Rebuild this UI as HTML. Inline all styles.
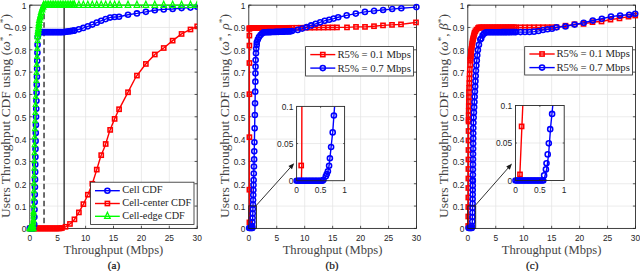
<!DOCTYPE html><html><head><meta charset="utf-8"><style>html,body{margin:0;padding:0;background:#fff;overflow:hidden}svg{display:block}.tk{font-family:"Liberation Sans",sans-serif;font-size:8.4px;fill:#262626}.lab{font-family:"Liberation Serif",serif;font-size:12.6px;fill:#444}.ylab{font-family:"Liberation Serif",serif;font-size:13px;fill:#262626}.leg{font-family:"Liberation Serif",serif;font-size:10.8px;fill:#252525}.cap{font-family:"Liberation Serif",serif;font-size:11.2px;fill:#111;stroke:#111;stroke-width:0.2}</style></head><body>
<svg width="640" height="271" viewBox="0 0 640 271"><rect width="640" height="271" fill="#fff"/>
<path d="M57.70,5.15 V228.40 M85.60,5.15 V228.40 M113.50,5.15 V228.40 M141.40,5.15 V228.40 M169.30,5.15 V228.40 M29.80,206.07 H197.20 M29.80,183.75 H197.20 M29.80,161.43 H197.20 M29.80,139.10 H197.20 M29.80,116.78 H197.20 M29.80,94.45 H197.20 M29.80,72.13 H197.20 M29.80,49.80 H197.20 M29.80,27.47 H197.20" stroke="#e2e2e2" stroke-width="0.7" fill="none"/>
<path d="M29.80,228.40 v-2.60 M29.80,5.15 v2.60 M57.70,228.40 v-2.60 M57.70,5.15 v2.60 M85.60,228.40 v-2.60 M85.60,5.15 v2.60 M113.50,228.40 v-2.60 M113.50,5.15 v2.60 M141.40,228.40 v-2.60 M141.40,5.15 v2.60 M169.30,228.40 v-2.60 M169.30,5.15 v2.60 M197.20,228.40 v-2.60 M197.20,5.15 v2.60 M29.80,228.40 h2.60 M197.20,228.40 h-2.60 M29.80,206.07 h2.60 M197.20,206.07 h-2.60 M29.80,183.75 h2.60 M197.20,183.75 h-2.60 M29.80,161.43 h2.60 M197.20,161.43 h-2.60 M29.80,139.10 h2.60 M197.20,139.10 h-2.60 M29.80,116.78 h2.60 M197.20,116.78 h-2.60 M29.80,94.45 h2.60 M197.20,94.45 h-2.60 M29.80,72.13 h2.60 M197.20,72.13 h-2.60 M29.80,49.80 h2.60 M197.20,49.80 h-2.60 M29.80,27.47 h2.60 M197.20,27.47 h-2.60 M29.80,5.15 h2.60 M197.20,5.15 h-2.60" stroke="#262626" stroke-width="0.75" fill="none"/>
<rect x="29.80" y="5.15" width="167.40" height="223.25" fill="none" stroke="#202020" stroke-width="0.85"/>
<svg x="21.80" y="-2.85" width="175.40" height="239.25" viewBox="21.80 -2.85 175.40 239.25" overflow="hidden">
<path d="M44.03,5.15 V228.40" stroke="#161616" stroke-width="1.25" stroke-dasharray="5.5,3"/>
<path d="M64.12,5.15 V228.40" stroke="#161616" stroke-width="1.25"/>
<path d="M29.80,228.40 L59.93,228.40 L64.40,227.51 L67.19,225.72 L69.98,223.94 L73.32,221.03 L78.35,213.44 L83.54,203.84 L87.94,194.47 L92.30,183.75 L96.20,171.47 L100.67,156.51 L105.13,145.80 L109.59,131.29 L114.06,120.12 L118.52,110.30 L126.89,94.45 L135.82,77.04 L145.31,64.53 L154.79,54.49 L163.72,48.01 L172.65,40.65 L181.58,33.95 L190.50,29.48 L197.20,26.36" stroke="#ff0000" stroke-width="1.4" fill="none"/>
<rect x="27.70" y="226.30" width="4.20" height="4.20" fill="none" stroke="#ff0000" stroke-width="1.55"/>
<rect x="29.09" y="226.30" width="4.20" height="4.20" fill="none" stroke="#ff0000" stroke-width="1.55"/>
<rect x="30.49" y="226.30" width="4.20" height="4.20" fill="none" stroke="#ff0000" stroke-width="1.55"/>
<rect x="31.88" y="226.30" width="4.20" height="4.20" fill="none" stroke="#ff0000" stroke-width="1.55"/>
<rect x="33.28" y="226.30" width="4.20" height="4.20" fill="none" stroke="#ff0000" stroke-width="1.55"/>
<rect x="34.67" y="226.30" width="4.20" height="4.20" fill="none" stroke="#ff0000" stroke-width="1.55"/>
<rect x="36.07" y="226.30" width="4.20" height="4.20" fill="none" stroke="#ff0000" stroke-width="1.55"/>
<rect x="37.46" y="226.30" width="4.20" height="4.20" fill="none" stroke="#ff0000" stroke-width="1.55"/>
<rect x="38.86" y="226.30" width="4.20" height="4.20" fill="none" stroke="#ff0000" stroke-width="1.55"/>
<rect x="40.25" y="226.30" width="4.20" height="4.20" fill="none" stroke="#ff0000" stroke-width="1.55"/>
<rect x="41.65" y="226.30" width="4.20" height="4.20" fill="none" stroke="#ff0000" stroke-width="1.55"/>
<rect x="43.04" y="226.30" width="4.20" height="4.20" fill="none" stroke="#ff0000" stroke-width="1.55"/>
<rect x="44.44" y="226.30" width="4.20" height="4.20" fill="none" stroke="#ff0000" stroke-width="1.55"/>
<rect x="45.84" y="226.30" width="4.20" height="4.20" fill="none" stroke="#ff0000" stroke-width="1.55"/>
<rect x="47.23" y="226.30" width="4.20" height="4.20" fill="none" stroke="#ff0000" stroke-width="1.55"/>
<rect x="48.62" y="226.30" width="4.20" height="4.20" fill="none" stroke="#ff0000" stroke-width="1.55"/>
<rect x="50.02" y="226.30" width="4.20" height="4.20" fill="none" stroke="#ff0000" stroke-width="1.55"/>
<rect x="51.41" y="226.30" width="4.20" height="4.20" fill="none" stroke="#ff0000" stroke-width="1.55"/>
<rect x="52.81" y="226.30" width="4.20" height="4.20" fill="none" stroke="#ff0000" stroke-width="1.55"/>
<rect x="54.20" y="226.30" width="4.20" height="4.20" fill="none" stroke="#ff0000" stroke-width="1.55"/>
<rect x="55.60" y="226.30" width="4.20" height="4.20" fill="none" stroke="#ff0000" stroke-width="1.55"/>
<rect x="56.99" y="226.30" width="4.20" height="4.20" fill="none" stroke="#ff0000" stroke-width="1.55"/>
<rect x="58.39" y="226.19" width="4.20" height="4.20" fill="none" stroke="#ff0000" stroke-width="1.55"/>
<rect x="59.78" y="225.91" width="4.20" height="4.20" fill="none" stroke="#ff0000" stroke-width="1.55"/>
<rect x="63.41" y="224.69" width="4.20" height="4.20" fill="none" stroke="#ff0000" stroke-width="1.55"/>
<rect x="67.88" y="221.84" width="4.20" height="4.20" fill="none" stroke="#ff0000" stroke-width="1.55"/>
<rect x="72.34" y="217.25" width="4.20" height="4.20" fill="none" stroke="#ff0000" stroke-width="1.55"/>
<rect x="76.80" y="210.31" width="4.20" height="4.20" fill="none" stroke="#ff0000" stroke-width="1.55"/>
<rect x="81.27" y="202.05" width="4.20" height="4.20" fill="none" stroke="#ff0000" stroke-width="1.55"/>
<rect x="85.73" y="192.60" width="4.20" height="4.20" fill="none" stroke="#ff0000" stroke-width="1.55"/>
<rect x="90.20" y="181.65" width="4.20" height="4.20" fill="none" stroke="#ff0000" stroke-width="1.55"/>
<rect x="94.66" y="167.50" width="4.20" height="4.20" fill="none" stroke="#ff0000" stroke-width="1.55"/>
<rect x="99.12" y="153.07" width="4.20" height="4.20" fill="none" stroke="#ff0000" stroke-width="1.55"/>
<rect x="103.59" y="141.88" width="4.20" height="4.20" fill="none" stroke="#ff0000" stroke-width="1.55"/>
<rect x="108.05" y="127.79" width="4.20" height="4.20" fill="none" stroke="#ff0000" stroke-width="1.55"/>
<rect x="112.52" y="116.80" width="4.20" height="4.20" fill="none" stroke="#ff0000" stroke-width="1.55"/>
<rect x="116.98" y="107.14" width="4.20" height="4.20" fill="none" stroke="#ff0000" stroke-width="1.55"/>
<rect x="125.91" y="90.17" width="4.20" height="4.20" fill="none" stroke="#ff0000" stroke-width="1.55"/>
<rect x="134.84" y="73.47" width="4.20" height="4.20" fill="none" stroke="#ff0000" stroke-width="1.55"/>
<rect x="143.76" y="61.84" width="4.20" height="4.20" fill="none" stroke="#ff0000" stroke-width="1.55"/>
<rect x="152.69" y="52.39" width="4.20" height="4.20" fill="none" stroke="#ff0000" stroke-width="1.55"/>
<rect x="161.62" y="45.91" width="4.20" height="4.20" fill="none" stroke="#ff0000" stroke-width="1.55"/>
<rect x="170.55" y="38.55" width="4.20" height="4.20" fill="none" stroke="#ff0000" stroke-width="1.55"/>
<rect x="179.48" y="31.85" width="4.20" height="4.20" fill="none" stroke="#ff0000" stroke-width="1.55"/>
<rect x="188.40" y="27.38" width="4.20" height="4.20" fill="none" stroke="#ff0000" stroke-width="1.55"/>
<rect x="195.10" y="24.26" width="4.20" height="4.20" fill="none" stroke="#ff0000" stroke-width="1.55"/>
<path d="M29.80,228.40 L34.15,228.40 L34.99,183.75 L35.83,127.94 L37.05,72.13 L37.72,36.41 L39.01,32.16 L63.28,32.16 L74.44,30.60 L80.02,29.04 L87.27,26.58 L92.85,24.35 L98.43,21.89 L103.46,19.88 L111.27,17.21 L119.08,16.76 L128.01,14.75 L136.94,13.41 L145.86,11.85 L154.79,10.28 L163.72,9.39 L172.65,8.95 L181.58,8.05 L190.50,7.61 L197.20,6.71" stroke="#0000ff" stroke-width="1.4" fill="none"/>
<circle cx="34.23" cy="224.49" r="2.55" fill="none" stroke="#0000ff" stroke-width="1.55"/>
<circle cx="34.37" cy="216.98" r="2.55" fill="none" stroke="#0000ff" stroke-width="1.55"/>
<circle cx="34.51" cy="209.48" r="2.55" fill="none" stroke="#0000ff" stroke-width="1.55"/>
<circle cx="34.65" cy="201.97" r="2.55" fill="none" stroke="#0000ff" stroke-width="1.55"/>
<circle cx="34.79" cy="194.46" r="2.55" fill="none" stroke="#0000ff" stroke-width="1.55"/>
<circle cx="34.93" cy="186.95" r="2.55" fill="none" stroke="#0000ff" stroke-width="1.55"/>
<circle cx="35.05" cy="179.44" r="2.55" fill="none" stroke="#0000ff" stroke-width="1.55"/>
<circle cx="35.17" cy="171.93" r="2.55" fill="none" stroke="#0000ff" stroke-width="1.55"/>
<circle cx="35.28" cy="164.43" r="2.55" fill="none" stroke="#0000ff" stroke-width="1.55"/>
<circle cx="35.39" cy="156.92" r="2.55" fill="none" stroke="#0000ff" stroke-width="1.55"/>
<circle cx="35.51" cy="148.91" r="2.55" fill="none" stroke="#0000ff" stroke-width="1.55"/>
<circle cx="35.63" cy="140.90" r="2.55" fill="none" stroke="#0000ff" stroke-width="1.55"/>
<circle cx="35.75" cy="132.89" r="2.55" fill="none" stroke="#0000ff" stroke-width="1.55"/>
<circle cx="35.89" cy="124.88" r="2.55" fill="none" stroke="#0000ff" stroke-width="1.55"/>
<circle cx="36.07" cy="116.87" r="2.55" fill="none" stroke="#0000ff" stroke-width="1.55"/>
<circle cx="36.25" cy="108.86" r="2.55" fill="none" stroke="#0000ff" stroke-width="1.55"/>
<circle cx="36.42" cy="100.85" r="2.55" fill="none" stroke="#0000ff" stroke-width="1.55"/>
<circle cx="36.60" cy="92.85" r="2.55" fill="none" stroke="#0000ff" stroke-width="1.55"/>
<circle cx="36.77" cy="84.84" r="2.55" fill="none" stroke="#0000ff" stroke-width="1.55"/>
<circle cx="36.95" cy="76.83" r="2.55" fill="none" stroke="#0000ff" stroke-width="1.55"/>
<circle cx="37.12" cy="68.82" r="2.55" fill="none" stroke="#0000ff" stroke-width="1.55"/>
<circle cx="37.27" cy="60.81" r="2.55" fill="none" stroke="#0000ff" stroke-width="1.55"/>
<circle cx="37.42" cy="52.80" r="2.55" fill="none" stroke="#0000ff" stroke-width="1.55"/>
<circle cx="37.57" cy="44.79" r="2.55" fill="none" stroke="#0000ff" stroke-width="1.55"/>
<circle cx="37.72" cy="36.78" r="2.55" fill="none" stroke="#0000ff" stroke-width="1.55"/>
<circle cx="29.80" cy="228.40" r="2.55" fill="none" stroke="#0000ff" stroke-width="1.55"/>
<circle cx="30.64" cy="228.40" r="2.55" fill="none" stroke="#0000ff" stroke-width="1.55"/>
<circle cx="31.47" cy="228.40" r="2.55" fill="none" stroke="#0000ff" stroke-width="1.55"/>
<circle cx="32.31" cy="228.40" r="2.55" fill="none" stroke="#0000ff" stroke-width="1.55"/>
<circle cx="33.15" cy="228.40" r="2.55" fill="none" stroke="#0000ff" stroke-width="1.55"/>
<circle cx="38.73" cy="33.09" r="2.55" fill="none" stroke="#0000ff" stroke-width="1.55"/>
<circle cx="40.40" cy="32.16" r="2.55" fill="none" stroke="#0000ff" stroke-width="1.55"/>
<circle cx="42.08" cy="32.16" r="2.55" fill="none" stroke="#0000ff" stroke-width="1.55"/>
<circle cx="43.75" cy="32.16" r="2.55" fill="none" stroke="#0000ff" stroke-width="1.55"/>
<circle cx="45.42" cy="32.16" r="2.55" fill="none" stroke="#0000ff" stroke-width="1.55"/>
<circle cx="47.10" cy="32.16" r="2.55" fill="none" stroke="#0000ff" stroke-width="1.55"/>
<circle cx="48.77" cy="32.16" r="2.55" fill="none" stroke="#0000ff" stroke-width="1.55"/>
<circle cx="50.45" cy="32.16" r="2.55" fill="none" stroke="#0000ff" stroke-width="1.55"/>
<circle cx="52.12" cy="32.16" r="2.55" fill="none" stroke="#0000ff" stroke-width="1.55"/>
<circle cx="53.79" cy="32.16" r="2.55" fill="none" stroke="#0000ff" stroke-width="1.55"/>
<circle cx="55.47" cy="32.16" r="2.55" fill="none" stroke="#0000ff" stroke-width="1.55"/>
<circle cx="57.14" cy="32.16" r="2.55" fill="none" stroke="#0000ff" stroke-width="1.55"/>
<circle cx="58.82" cy="32.16" r="2.55" fill="none" stroke="#0000ff" stroke-width="1.55"/>
<circle cx="60.49" cy="32.16" r="2.55" fill="none" stroke="#0000ff" stroke-width="1.55"/>
<circle cx="62.16" cy="32.16" r="2.55" fill="none" stroke="#0000ff" stroke-width="1.55"/>
<circle cx="63.84" cy="32.09" r="2.55" fill="none" stroke="#0000ff" stroke-width="1.55"/>
<circle cx="65.51" cy="31.85" r="2.55" fill="none" stroke="#0000ff" stroke-width="1.55"/>
<circle cx="67.19" cy="31.62" r="2.55" fill="none" stroke="#0000ff" stroke-width="1.55"/>
<circle cx="68.86" cy="31.38" r="2.55" fill="none" stroke="#0000ff" stroke-width="1.55"/>
<circle cx="70.53" cy="31.15" r="2.55" fill="none" stroke="#0000ff" stroke-width="1.55"/>
<circle cx="72.21" cy="30.91" r="2.55" fill="none" stroke="#0000ff" stroke-width="1.55"/>
<circle cx="73.88" cy="30.68" r="2.55" fill="none" stroke="#0000ff" stroke-width="1.55"/>
<circle cx="74.44" cy="30.60" r="2.55" fill="none" stroke="#0000ff" stroke-width="1.55"/>
<circle cx="78.90" cy="29.35" r="2.55" fill="none" stroke="#0000ff" stroke-width="1.55"/>
<circle cx="83.37" cy="27.90" r="2.55" fill="none" stroke="#0000ff" stroke-width="1.55"/>
<circle cx="87.83" cy="26.36" r="2.55" fill="none" stroke="#0000ff" stroke-width="1.55"/>
<circle cx="92.30" cy="24.57" r="2.55" fill="none" stroke="#0000ff" stroke-width="1.55"/>
<circle cx="96.76" cy="22.63" r="2.55" fill="none" stroke="#0000ff" stroke-width="1.55"/>
<circle cx="101.22" cy="20.78" r="2.55" fill="none" stroke="#0000ff" stroke-width="1.55"/>
<circle cx="105.69" cy="19.12" r="2.55" fill="none" stroke="#0000ff" stroke-width="1.55"/>
<circle cx="110.15" cy="17.59" r="2.55" fill="none" stroke="#0000ff" stroke-width="1.55"/>
<circle cx="114.62" cy="17.01" r="2.55" fill="none" stroke="#0000ff" stroke-width="1.55"/>
<circle cx="119.08" cy="16.76" r="2.55" fill="none" stroke="#0000ff" stroke-width="1.55"/>
<circle cx="128.01" cy="14.75" r="2.55" fill="none" stroke="#0000ff" stroke-width="1.55"/>
<circle cx="136.94" cy="13.41" r="2.55" fill="none" stroke="#0000ff" stroke-width="1.55"/>
<circle cx="145.86" cy="11.85" r="2.55" fill="none" stroke="#0000ff" stroke-width="1.55"/>
<circle cx="154.79" cy="10.28" r="2.55" fill="none" stroke="#0000ff" stroke-width="1.55"/>
<circle cx="163.72" cy="9.39" r="2.55" fill="none" stroke="#0000ff" stroke-width="1.55"/>
<circle cx="172.65" cy="8.95" r="2.55" fill="none" stroke="#0000ff" stroke-width="1.55"/>
<circle cx="181.58" cy="8.05" r="2.55" fill="none" stroke="#0000ff" stroke-width="1.55"/>
<circle cx="190.50" cy="7.61" r="2.55" fill="none" stroke="#0000ff" stroke-width="1.55"/>
<circle cx="197.20" cy="6.71" r="2.55" fill="none" stroke="#0000ff" stroke-width="1.55"/>
<path d="M29.80,228.40 L33.26,228.40 L33.98,183.75 L34.82,127.94 L36.50,72.13 L37.72,35.07 L39.40,20.11 L41.80,10.06 L43.75,5.15 L197.20,5.15" stroke="#00ff00" stroke-width="1.4" fill="none"/>
<path d="M29.80,224.44 L32.62,230.56 L26.98,230.56 Z" fill="none" stroke="#00ff00" stroke-width="1.25" stroke-linejoin="miter"/>
<path d="M30.64,224.44 L33.46,230.56 L27.82,230.56 Z" fill="none" stroke="#00ff00" stroke-width="1.25" stroke-linejoin="miter"/>
<path d="M31.47,224.44 L34.29,230.56 L28.65,230.56 Z" fill="none" stroke="#00ff00" stroke-width="1.25" stroke-linejoin="miter"/>
<path d="M32.31,224.44 L35.13,230.56 L29.49,230.56 Z" fill="none" stroke="#00ff00" stroke-width="1.25" stroke-linejoin="miter"/>
<path d="M33.15,224.44 L35.97,230.56 L30.33,230.56 Z" fill="none" stroke="#00ff00" stroke-width="1.25" stroke-linejoin="miter"/>
<path d="M33.30,222.42 L35.65,227.52 L30.95,227.52 Z" fill="none" stroke="#00ff00" stroke-width="1.10" stroke-linejoin="miter"/>
<path d="M33.35,219.52 L35.70,224.62 L31.00,224.62 Z" fill="none" stroke="#00ff00" stroke-width="1.10" stroke-linejoin="miter"/>
<path d="M33.40,216.17 L35.75,221.27 L31.05,221.27 Z" fill="none" stroke="#00ff00" stroke-width="1.10" stroke-linejoin="miter"/>
<path d="M33.46,212.82 L35.81,217.92 L31.11,217.92 Z" fill="none" stroke="#00ff00" stroke-width="1.10" stroke-linejoin="miter"/>
<path d="M33.53,208.36 L35.88,213.46 L31.18,213.46 Z" fill="none" stroke="#00ff00" stroke-width="1.10" stroke-linejoin="miter"/>
<path d="M33.26,225.10 L35.61,230.20 L30.91,230.20 Z" fill="none" stroke="#00ff00" stroke-width="1.10" stroke-linejoin="miter"/>
<path d="M33.38,217.59 L35.73,222.69 L31.03,222.69 Z" fill="none" stroke="#00ff00" stroke-width="1.10" stroke-linejoin="miter"/>
<path d="M33.50,210.08 L35.85,215.18 L31.15,215.18 Z" fill="none" stroke="#00ff00" stroke-width="1.10" stroke-linejoin="miter"/>
<path d="M33.63,202.57 L35.98,207.67 L31.28,207.67 Z" fill="none" stroke="#00ff00" stroke-width="1.10" stroke-linejoin="miter"/>
<path d="M33.75,195.07 L36.10,200.17 L31.40,200.17 Z" fill="none" stroke="#00ff00" stroke-width="1.10" stroke-linejoin="miter"/>
<path d="M33.87,187.56 L36.22,192.66 L31.52,192.66 Z" fill="none" stroke="#00ff00" stroke-width="1.10" stroke-linejoin="miter"/>
<path d="M33.99,180.05 L36.34,185.15 L31.64,185.15 Z" fill="none" stroke="#00ff00" stroke-width="1.10" stroke-linejoin="miter"/>
<path d="M34.10,172.54 L36.45,177.64 L31.75,177.64 Z" fill="none" stroke="#00ff00" stroke-width="1.10" stroke-linejoin="miter"/>
<path d="M34.22,165.03 L36.57,170.13 L31.87,170.13 Z" fill="none" stroke="#00ff00" stroke-width="1.10" stroke-linejoin="miter"/>
<path d="M34.33,157.52 L36.68,162.62 L31.98,162.62 Z" fill="none" stroke="#00ff00" stroke-width="1.10" stroke-linejoin="miter"/>
<path d="M34.45,149.52 L36.80,154.62 L32.10,154.62 Z" fill="none" stroke="#00ff00" stroke-width="1.10" stroke-linejoin="miter"/>
<path d="M34.57,141.51 L36.92,146.61 L32.22,146.61 Z" fill="none" stroke="#00ff00" stroke-width="1.10" stroke-linejoin="miter"/>
<path d="M34.69,133.50 L37.04,138.60 L32.34,138.60 Z" fill="none" stroke="#00ff00" stroke-width="1.10" stroke-linejoin="miter"/>
<path d="M34.81,125.49 L37.16,130.59 L32.46,130.59 Z" fill="none" stroke="#00ff00" stroke-width="1.10" stroke-linejoin="miter"/>
<path d="M35.04,117.48 L37.39,122.58 L32.69,122.58 Z" fill="none" stroke="#00ff00" stroke-width="1.10" stroke-linejoin="miter"/>
<path d="M35.28,109.47 L37.63,114.57 L32.93,114.57 Z" fill="none" stroke="#00ff00" stroke-width="1.10" stroke-linejoin="miter"/>
<path d="M35.52,101.46 L37.87,106.56 L33.17,106.56 Z" fill="none" stroke="#00ff00" stroke-width="1.10" stroke-linejoin="miter"/>
<path d="M35.76,93.45 L38.11,98.55 L33.41,98.55 Z" fill="none" stroke="#00ff00" stroke-width="1.10" stroke-linejoin="miter"/>
<path d="M36.00,85.44 L38.35,90.54 L33.65,90.54 Z" fill="none" stroke="#00ff00" stroke-width="1.10" stroke-linejoin="miter"/>
<path d="M36.24,77.43 L38.59,82.53 L33.89,82.53 Z" fill="none" stroke="#00ff00" stroke-width="1.10" stroke-linejoin="miter"/>
<path d="M36.48,69.43 L38.83,74.53 L34.13,74.53 Z" fill="none" stroke="#00ff00" stroke-width="1.10" stroke-linejoin="miter"/>
<path d="M36.74,61.42 L39.09,66.52 L34.39,66.52 Z" fill="none" stroke="#00ff00" stroke-width="1.10" stroke-linejoin="miter"/>
<path d="M37.01,53.41 L39.36,58.51 L34.66,58.51 Z" fill="none" stroke="#00ff00" stroke-width="1.10" stroke-linejoin="miter"/>
<path d="M37.27,45.40 L39.62,50.50 L34.92,50.50 Z" fill="none" stroke="#00ff00" stroke-width="1.10" stroke-linejoin="miter"/>
<path d="M37.54,37.39 L39.89,42.49 L35.19,42.49 Z" fill="none" stroke="#00ff00" stroke-width="1.10" stroke-linejoin="miter"/>
<path d="M37.99,29.38 L40.34,34.48 L35.64,34.48 Z" fill="none" stroke="#00ff00" stroke-width="1.10" stroke-linejoin="miter"/>
<path d="M38.89,21.37 L41.24,26.47 L36.54,26.47 Z" fill="none" stroke="#00ff00" stroke-width="1.10" stroke-linejoin="miter"/>
<path d="M40.22,13.36 L42.57,18.46 L37.87,18.46 Z" fill="none" stroke="#00ff00" stroke-width="1.10" stroke-linejoin="miter"/>
<path d="M42.36,5.35 L44.71,10.45 L40.01,10.45 Z" fill="none" stroke="#00ff00" stroke-width="1.10" stroke-linejoin="miter"/>
<path d="M37.68,32.45 L40.50,38.56 L34.86,38.56 Z" fill="none" stroke="#00ff00" stroke-width="1.25" stroke-linejoin="miter"/>
<path d="M37.87,29.77 L40.69,35.89 L35.05,35.89 Z" fill="none" stroke="#00ff00" stroke-width="1.25" stroke-linejoin="miter"/>
<path d="M38.17,27.09 L40.99,33.21 L35.35,33.21 Z" fill="none" stroke="#00ff00" stroke-width="1.25" stroke-linejoin="miter"/>
<path d="M38.47,24.41 L41.29,30.53 L35.65,30.53 Z" fill="none" stroke="#00ff00" stroke-width="1.25" stroke-linejoin="miter"/>
<path d="M38.77,21.73 L41.59,27.85 L35.95,27.85 Z" fill="none" stroke="#00ff00" stroke-width="1.25" stroke-linejoin="miter"/>
<path d="M39.07,19.05 L41.89,25.17 L36.25,25.17 Z" fill="none" stroke="#00ff00" stroke-width="1.25" stroke-linejoin="miter"/>
<path d="M39.37,16.37 L42.19,22.49 L36.55,22.49 Z" fill="none" stroke="#00ff00" stroke-width="1.25" stroke-linejoin="miter"/>
<path d="M39.98,13.69 L42.80,19.81 L37.16,19.81 Z" fill="none" stroke="#00ff00" stroke-width="1.25" stroke-linejoin="miter"/>
<path d="M40.62,11.01 L43.44,17.13 L37.80,17.13 Z" fill="none" stroke="#00ff00" stroke-width="1.25" stroke-linejoin="miter"/>
<path d="M41.26,8.33 L44.08,14.45 L38.44,14.45 Z" fill="none" stroke="#00ff00" stroke-width="1.25" stroke-linejoin="miter"/>
<path d="M41.97,5.65 L44.79,11.77 L39.15,11.77 Z" fill="none" stroke="#00ff00" stroke-width="1.25" stroke-linejoin="miter"/>
<path d="M43.04,2.98 L45.86,9.10 L40.22,9.10 Z" fill="none" stroke="#00ff00" stroke-width="1.25" stroke-linejoin="miter"/>
<path d="M43.75,1.19 L46.57,7.31 L40.93,7.31 Z" fill="none" stroke="#00ff00" stroke-width="1.25" stroke-linejoin="miter"/>
<path d="M45.42,1.19 L48.24,7.31 L42.60,7.31 Z" fill="none" stroke="#00ff00" stroke-width="1.25" stroke-linejoin="miter"/>
<path d="M47.10,1.19 L49.92,7.31 L44.28,7.31 Z" fill="none" stroke="#00ff00" stroke-width="1.25" stroke-linejoin="miter"/>
<path d="M48.77,1.19 L51.59,7.31 L45.95,7.31 Z" fill="none" stroke="#00ff00" stroke-width="1.25" stroke-linejoin="miter"/>
<path d="M50.45,1.19 L53.27,7.31 L47.63,7.31 Z" fill="none" stroke="#00ff00" stroke-width="1.25" stroke-linejoin="miter"/>
<path d="M52.12,1.19 L54.94,7.31 L49.30,7.31 Z" fill="none" stroke="#00ff00" stroke-width="1.25" stroke-linejoin="miter"/>
<path d="M53.79,1.19 L56.61,7.31 L50.97,7.31 Z" fill="none" stroke="#00ff00" stroke-width="1.25" stroke-linejoin="miter"/>
<path d="M55.47,1.19 L58.29,7.31 L52.65,7.31 Z" fill="none" stroke="#00ff00" stroke-width="1.25" stroke-linejoin="miter"/>
<path d="M57.14,1.19 L59.96,7.31 L54.32,7.31 Z" fill="none" stroke="#00ff00" stroke-width="1.25" stroke-linejoin="miter"/>
<path d="M58.82,1.19 L61.64,7.31 L56.00,7.31 Z" fill="none" stroke="#00ff00" stroke-width="1.25" stroke-linejoin="miter"/>
<path d="M60.49,1.19 L63.31,7.31 L57.67,7.31 Z" fill="none" stroke="#00ff00" stroke-width="1.25" stroke-linejoin="miter"/>
<path d="M62.16,1.19 L64.98,7.31 L59.34,7.31 Z" fill="none" stroke="#00ff00" stroke-width="1.25" stroke-linejoin="miter"/>
<path d="M63.84,1.19 L66.66,7.31 L61.02,7.31 Z" fill="none" stroke="#00ff00" stroke-width="1.25" stroke-linejoin="miter"/>
<path d="M65.51,1.19 L68.33,7.31 L62.69,7.31 Z" fill="none" stroke="#00ff00" stroke-width="1.25" stroke-linejoin="miter"/>
<path d="M67.19,1.19 L70.01,7.31 L64.37,7.31 Z" fill="none" stroke="#00ff00" stroke-width="1.25" stroke-linejoin="miter"/>
<path d="M68.86,1.19 L71.68,7.31 L66.04,7.31 Z" fill="none" stroke="#00ff00" stroke-width="1.25" stroke-linejoin="miter"/>
<path d="M70.53,1.19 L73.35,7.31 L67.71,7.31 Z" fill="none" stroke="#00ff00" stroke-width="1.25" stroke-linejoin="miter"/>
<path d="M72.21,1.19 L75.03,7.31 L69.39,7.31 Z" fill="none" stroke="#00ff00" stroke-width="1.25" stroke-linejoin="miter"/>
<path d="M73.88,1.19 L76.70,7.31 L71.06,7.31 Z" fill="none" stroke="#00ff00" stroke-width="1.25" stroke-linejoin="miter"/>
<path d="M74.44,1.19 L77.26,7.31 L71.62,7.31 Z" fill="none" stroke="#00ff00" stroke-width="1.25" stroke-linejoin="miter"/>
<path d="M78.90,1.19 L81.72,7.31 L76.08,7.31 Z" fill="none" stroke="#00ff00" stroke-width="1.25" stroke-linejoin="miter"/>
<path d="M83.37,1.19 L86.19,7.31 L80.55,7.31 Z" fill="none" stroke="#00ff00" stroke-width="1.25" stroke-linejoin="miter"/>
<path d="M87.83,1.19 L90.65,7.31 L85.01,7.31 Z" fill="none" stroke="#00ff00" stroke-width="1.25" stroke-linejoin="miter"/>
<path d="M92.30,1.19 L95.12,7.31 L89.48,7.31 Z" fill="none" stroke="#00ff00" stroke-width="1.25" stroke-linejoin="miter"/>
<path d="M96.76,1.19 L99.58,7.31 L93.94,7.31 Z" fill="none" stroke="#00ff00" stroke-width="1.25" stroke-linejoin="miter"/>
<path d="M101.22,1.19 L104.04,7.31 L98.40,7.31 Z" fill="none" stroke="#00ff00" stroke-width="1.25" stroke-linejoin="miter"/>
<path d="M105.69,1.19 L108.51,7.31 L102.87,7.31 Z" fill="none" stroke="#00ff00" stroke-width="1.25" stroke-linejoin="miter"/>
<path d="M110.15,1.19 L112.97,7.31 L107.33,7.31 Z" fill="none" stroke="#00ff00" stroke-width="1.25" stroke-linejoin="miter"/>
<path d="M114.62,1.19 L117.44,7.31 L111.80,7.31 Z" fill="none" stroke="#00ff00" stroke-width="1.25" stroke-linejoin="miter"/>
<path d="M119.08,1.19 L121.90,7.31 L116.26,7.31 Z" fill="none" stroke="#00ff00" stroke-width="1.25" stroke-linejoin="miter"/>
<path d="M128.01,1.19 L130.83,7.31 L125.19,7.31 Z" fill="none" stroke="#00ff00" stroke-width="1.25" stroke-linejoin="miter"/>
<path d="M136.94,1.19 L139.76,7.31 L134.12,7.31 Z" fill="none" stroke="#00ff00" stroke-width="1.25" stroke-linejoin="miter"/>
<path d="M145.86,1.19 L148.68,7.31 L143.04,7.31 Z" fill="none" stroke="#00ff00" stroke-width="1.25" stroke-linejoin="miter"/>
<path d="M154.79,1.19 L157.61,7.31 L151.97,7.31 Z" fill="none" stroke="#00ff00" stroke-width="1.25" stroke-linejoin="miter"/>
<path d="M163.72,1.19 L166.54,7.31 L160.90,7.31 Z" fill="none" stroke="#00ff00" stroke-width="1.25" stroke-linejoin="miter"/>
<path d="M172.65,1.19 L175.47,7.31 L169.83,7.31 Z" fill="none" stroke="#00ff00" stroke-width="1.25" stroke-linejoin="miter"/>
<path d="M181.58,1.19 L184.40,7.31 L178.76,7.31 Z" fill="none" stroke="#00ff00" stroke-width="1.25" stroke-linejoin="miter"/>
<path d="M190.50,1.19 L193.32,7.31 L187.68,7.31 Z" fill="none" stroke="#00ff00" stroke-width="1.25" stroke-linejoin="miter"/>
<path d="M197.20,1.19 L200.02,7.31 L194.38,7.31 Z" fill="none" stroke="#00ff00" stroke-width="1.25" stroke-linejoin="miter"/>
</svg>
<text x="29.80" y="241.2" text-anchor="middle" class="tk">0</text>
<text x="57.70" y="241.2" text-anchor="middle" class="tk">5</text>
<text x="85.60" y="241.2" text-anchor="middle" class="tk">10</text>
<text x="113.50" y="241.2" text-anchor="middle" class="tk">15</text>
<text x="141.40" y="241.2" text-anchor="middle" class="tk">20</text>
<text x="169.30" y="241.2" text-anchor="middle" class="tk">25</text>
<text x="197.20" y="241.2" text-anchor="middle" class="tk">30</text>
<text x="26.30" y="232.40" text-anchor="end" class="tk">0</text>
<text x="26.30" y="210.07" text-anchor="end" class="tk">0.1</text>
<text x="26.30" y="187.75" text-anchor="end" class="tk">0.2</text>
<text x="26.30" y="165.43" text-anchor="end" class="tk">0.3</text>
<text x="26.30" y="143.10" text-anchor="end" class="tk">0.4</text>
<text x="26.30" y="120.78" text-anchor="end" class="tk">0.5</text>
<text x="26.30" y="98.45" text-anchor="end" class="tk">0.6</text>
<text x="26.30" y="76.13" text-anchor="end" class="tk">0.7</text>
<text x="26.30" y="53.80" text-anchor="end" class="tk">0.8</text>
<text x="26.30" y="31.47" text-anchor="end" class="tk">0.9</text>
<text x="26.30" y="9.15" text-anchor="end" class="tk">1</text>
<text x="113.40" y="253.6" text-anchor="middle" class="lab">Throughput (Mbps)</text>
<text x="113.90" y="268.8" text-anchor="middle" class="cap">(a)</text>
<text transform="translate(10.00,116) rotate(-90)" text-anchor="middle" class="lab" textLength="204" lengthAdjust="spacingAndGlyphs">Users Throughput CDF using (<tspan font-style="italic">ω</tspan><tspan dy="-4.5" font-size="9">*</tspan><tspan dy="4.5">, </tspan><tspan font-style="italic">ρ</tspan><tspan dy="-4.5" font-size="9">*</tspan><tspan dy="4.5">)</tspan></text>
<rect x="90.60" y="182.20" width="103.40" height="42.20" fill="#fff" stroke="#262626" stroke-width="0.8"/>
<path d="M95,190.70 H119.8" stroke="#0000ff" stroke-width="1.4"/>
<circle cx="107.40" cy="190.70" r="2.55" fill="none" stroke="#0000ff" stroke-width="1.55"/>
<text x="122.3" y="193.40" class="leg" textLength="40.2" lengthAdjust="spacingAndGlyphs">Cell CDF</text>
<path d="M95,203.50 H119.8" stroke="#ff0000" stroke-width="1.4"/>
<rect x="105.30" y="201.40" width="4.20" height="4.20" fill="none" stroke="#ff0000" stroke-width="1.55"/>
<text x="122.3" y="206.20" class="leg" textLength="69.0" lengthAdjust="spacingAndGlyphs">Cell-center CDF</text>
<path d="M95,216.30 H119.8" stroke="#00ff00" stroke-width="1.4"/>
<path d="M107.40,212.34 L110.22,218.46 L104.58,218.46 Z" fill="none" stroke="#00ff00" stroke-width="1.25" stroke-linejoin="miter"/>
<text x="122.3" y="219.00" class="leg" textLength="62.5" lengthAdjust="spacingAndGlyphs">Cell-edge CDF</text>
<path d="M276.75,5.15 V228.40 M304.70,5.15 V228.40 M332.65,5.15 V228.40 M360.60,5.15 V228.40 M388.55,5.15 V228.40 M248.80,206.07 H416.50 M248.80,183.75 H416.50 M248.80,161.43 H416.50 M248.80,139.10 H416.50 M248.80,116.78 H416.50 M248.80,94.45 H416.50 M248.80,72.13 H416.50 M248.80,49.80 H416.50 M248.80,27.47 H416.50" stroke="#e2e2e2" stroke-width="0.7" fill="none"/>
<path d="M248.80,228.40 v-2.60 M248.80,5.15 v2.60 M276.75,228.40 v-2.60 M276.75,5.15 v2.60 M304.70,228.40 v-2.60 M304.70,5.15 v2.60 M332.65,228.40 v-2.60 M332.65,5.15 v2.60 M360.60,228.40 v-2.60 M360.60,5.15 v2.60 M388.55,228.40 v-2.60 M388.55,5.15 v2.60 M416.50,228.40 v-2.60 M416.50,5.15 v2.60 M248.80,228.40 h2.60 M416.50,228.40 h-2.60 M248.80,206.07 h2.60 M416.50,206.07 h-2.60 M248.80,183.75 h2.60 M416.50,183.75 h-2.60 M248.80,161.43 h2.60 M416.50,161.43 h-2.60 M248.80,139.10 h2.60 M416.50,139.10 h-2.60 M248.80,116.78 h2.60 M416.50,116.78 h-2.60 M248.80,94.45 h2.60 M416.50,94.45 h-2.60 M248.80,72.13 h2.60 M416.50,72.13 h-2.60 M248.80,49.80 h2.60 M416.50,49.80 h-2.60 M248.80,27.47 h2.60 M416.50,27.47 h-2.60 M248.80,5.15 h2.60 M416.50,5.15 h-2.60" stroke="#262626" stroke-width="0.75" fill="none"/>
<rect x="248.80" y="5.15" width="167.70" height="223.25" fill="none" stroke="#202020" stroke-width="0.85"/>
<svg x="240.80" y="-2.85" width="183.70" height="239.25" viewBox="240.80 -2.85 183.70 239.25" overflow="hidden">
<path d="M248.80,228.00 L249.30,228.00 L249.40,222.00 L249.40,28.10 L249.40,28.10 L263.00,28.10 L338.00,27.40 L346.70,27.40 L356.00,26.90 L364.90,26.90 L374.00,26.20 L382.70,25.40 L391.50,24.90 L400.60,24.40 L409.70,23.20 L416.00,22.40" stroke="#ff0000" stroke-width="1.4" fill="none"/>
<rect x="247.30" y="26.80" width="4.20" height="4.20" fill="none" stroke="#ff0000" stroke-width="1.55"/>
<rect x="247.30" y="33.50" width="4.20" height="4.20" fill="none" stroke="#ff0000" stroke-width="1.55"/>
<rect x="247.30" y="43.50" width="4.20" height="4.20" fill="none" stroke="#ff0000" stroke-width="1.55"/>
<rect x="247.30" y="60.90" width="4.20" height="4.20" fill="none" stroke="#ff0000" stroke-width="1.55"/>
<rect x="247.30" y="92.10" width="4.20" height="4.20" fill="none" stroke="#ff0000" stroke-width="1.55"/>
<rect x="247.30" y="135.10" width="4.20" height="4.20" fill="none" stroke="#ff0000" stroke-width="1.55"/>
<rect x="247.30" y="187.60" width="4.20" height="4.20" fill="none" stroke="#ff0000" stroke-width="1.55"/>
<rect x="247.30" y="220.30" width="4.20" height="4.20" fill="none" stroke="#ff0000" stroke-width="1.55"/>
<rect x="247.30" y="26.00" width="4.20" height="4.20" fill="none" stroke="#ff0000" stroke-width="1.55"/>
<rect x="248.90" y="26.00" width="4.20" height="4.20" fill="none" stroke="#ff0000" stroke-width="1.55"/>
<rect x="250.50" y="26.00" width="4.20" height="4.20" fill="none" stroke="#ff0000" stroke-width="1.55"/>
<rect x="252.10" y="26.00" width="4.20" height="4.20" fill="none" stroke="#ff0000" stroke-width="1.55"/>
<rect x="253.70" y="26.00" width="4.20" height="4.20" fill="none" stroke="#ff0000" stroke-width="1.55"/>
<rect x="255.30" y="26.00" width="4.20" height="4.20" fill="none" stroke="#ff0000" stroke-width="1.55"/>
<rect x="256.90" y="26.00" width="4.20" height="4.20" fill="none" stroke="#ff0000" stroke-width="1.55"/>
<rect x="258.50" y="26.00" width="4.20" height="4.20" fill="none" stroke="#ff0000" stroke-width="1.55"/>
<rect x="260.10" y="26.00" width="4.20" height="4.20" fill="none" stroke="#ff0000" stroke-width="1.55"/>
<rect x="261.70" y="25.99" width="4.20" height="4.20" fill="none" stroke="#ff0000" stroke-width="1.55"/>
<rect x="263.30" y="25.98" width="4.20" height="4.20" fill="none" stroke="#ff0000" stroke-width="1.55"/>
<rect x="264.90" y="25.96" width="4.20" height="4.20" fill="none" stroke="#ff0000" stroke-width="1.55"/>
<rect x="266.50" y="25.95" width="4.20" height="4.20" fill="none" stroke="#ff0000" stroke-width="1.55"/>
<rect x="268.10" y="25.93" width="4.20" height="4.20" fill="none" stroke="#ff0000" stroke-width="1.55"/>
<rect x="269.70" y="25.92" width="4.20" height="4.20" fill="none" stroke="#ff0000" stroke-width="1.55"/>
<rect x="271.30" y="25.90" width="4.20" height="4.20" fill="none" stroke="#ff0000" stroke-width="1.55"/>
<rect x="272.90" y="25.89" width="4.20" height="4.20" fill="none" stroke="#ff0000" stroke-width="1.55"/>
<rect x="274.50" y="25.87" width="4.20" height="4.20" fill="none" stroke="#ff0000" stroke-width="1.55"/>
<rect x="276.10" y="25.86" width="4.20" height="4.20" fill="none" stroke="#ff0000" stroke-width="1.55"/>
<rect x="277.70" y="25.84" width="4.20" height="4.20" fill="none" stroke="#ff0000" stroke-width="1.55"/>
<rect x="279.30" y="25.83" width="4.20" height="4.20" fill="none" stroke="#ff0000" stroke-width="1.55"/>
<rect x="280.90" y="25.81" width="4.20" height="4.20" fill="none" stroke="#ff0000" stroke-width="1.55"/>
<rect x="282.50" y="25.80" width="4.20" height="4.20" fill="none" stroke="#ff0000" stroke-width="1.55"/>
<rect x="284.10" y="25.78" width="4.20" height="4.20" fill="none" stroke="#ff0000" stroke-width="1.55"/>
<rect x="285.70" y="25.77" width="4.20" height="4.20" fill="none" stroke="#ff0000" stroke-width="1.55"/>
<rect x="287.30" y="25.75" width="4.20" height="4.20" fill="none" stroke="#ff0000" stroke-width="1.55"/>
<rect x="289.90" y="25.73" width="4.20" height="4.20" fill="none" stroke="#ff0000" stroke-width="1.55"/>
<rect x="294.40" y="25.69" width="4.20" height="4.20" fill="none" stroke="#ff0000" stroke-width="1.55"/>
<rect x="298.90" y="25.65" width="4.20" height="4.20" fill="none" stroke="#ff0000" stroke-width="1.55"/>
<rect x="303.40" y="25.60" width="4.20" height="4.20" fill="none" stroke="#ff0000" stroke-width="1.55"/>
<rect x="307.90" y="25.56" width="4.20" height="4.20" fill="none" stroke="#ff0000" stroke-width="1.55"/>
<rect x="312.40" y="25.52" width="4.20" height="4.20" fill="none" stroke="#ff0000" stroke-width="1.55"/>
<rect x="316.90" y="25.48" width="4.20" height="4.20" fill="none" stroke="#ff0000" stroke-width="1.55"/>
<rect x="321.40" y="25.44" width="4.20" height="4.20" fill="none" stroke="#ff0000" stroke-width="1.55"/>
<rect x="325.90" y="25.39" width="4.20" height="4.20" fill="none" stroke="#ff0000" stroke-width="1.55"/>
<rect x="330.40" y="25.35" width="4.20" height="4.20" fill="none" stroke="#ff0000" stroke-width="1.55"/>
<rect x="334.90" y="25.31" width="4.20" height="4.20" fill="none" stroke="#ff0000" stroke-width="1.55"/>
<rect x="344.90" y="25.28" width="4.20" height="4.20" fill="none" stroke="#ff0000" stroke-width="1.55"/>
<rect x="353.90" y="24.80" width="4.20" height="4.20" fill="none" stroke="#ff0000" stroke-width="1.55"/>
<rect x="362.90" y="24.79" width="4.20" height="4.20" fill="none" stroke="#ff0000" stroke-width="1.55"/>
<rect x="371.90" y="24.10" width="4.20" height="4.20" fill="none" stroke="#ff0000" stroke-width="1.55"/>
<rect x="380.90" y="23.28" width="4.20" height="4.20" fill="none" stroke="#ff0000" stroke-width="1.55"/>
<rect x="389.90" y="22.77" width="4.20" height="4.20" fill="none" stroke="#ff0000" stroke-width="1.55"/>
<rect x="398.90" y="22.25" width="4.20" height="4.20" fill="none" stroke="#ff0000" stroke-width="1.55"/>
<rect x="413.90" y="20.30" width="4.20" height="4.20" fill="none" stroke="#ff0000" stroke-width="1.55"/>
<path d="M248.60,228.00 L251.60,228.00 L252.20,226.50 L252.60,220.00 L253.00,205.70 L254.10,161.00 L255.20,94.00 L255.60,61.00 L256.20,48.00 L257.50,40.00 L259.50,35.00 L262.00,33.00 L265.00,32.30 L290.00,31.40 L297.70,29.90 L302.20,28.60 L306.60,27.20 L311.00,25.50 L315.50,23.80 L319.90,22.40 L324.30,20.90 L329.30,19.70 L333.70,18.60 L338.20,17.20 L346.70,15.40 L355.80,13.60 L364.90,11.90 L374.00,10.90 L382.70,10.00 L391.50,9.10 L400.60,8.30 L409.70,7.60 L416.70,7.10" stroke="#0000ff" stroke-width="1.4" fill="none"/>
<circle cx="249.20" cy="228.00" r="2.55" fill="none" stroke="#0000ff" stroke-width="1.55"/>
<circle cx="250.00" cy="228.00" r="2.55" fill="none" stroke="#0000ff" stroke-width="1.55"/>
<circle cx="250.80" cy="228.00" r="2.55" fill="none" stroke="#0000ff" stroke-width="1.55"/>
<circle cx="251.60" cy="228.00" r="2.55" fill="none" stroke="#0000ff" stroke-width="1.55"/>
<circle cx="252.40" cy="228.00" r="2.55" fill="none" stroke="#0000ff" stroke-width="1.55"/>
<circle cx="252.23" cy="226.00" r="2.55" fill="none" stroke="#0000ff" stroke-width="1.55"/>
<circle cx="252.48" cy="222.00" r="2.55" fill="none" stroke="#0000ff" stroke-width="1.55"/>
<circle cx="252.66" cy="218.00" r="2.55" fill="none" stroke="#0000ff" stroke-width="1.55"/>
<circle cx="252.78" cy="213.50" r="2.55" fill="none" stroke="#0000ff" stroke-width="1.55"/>
<circle cx="252.91" cy="209.00" r="2.55" fill="none" stroke="#0000ff" stroke-width="1.55"/>
<circle cx="253.03" cy="204.50" r="2.55" fill="none" stroke="#0000ff" stroke-width="1.55"/>
<circle cx="253.14" cy="200.00" r="2.55" fill="none" stroke="#0000ff" stroke-width="1.55"/>
<circle cx="253.26" cy="195.00" r="2.55" fill="none" stroke="#0000ff" stroke-width="1.55"/>
<circle cx="253.39" cy="190.00" r="2.55" fill="none" stroke="#0000ff" stroke-width="1.55"/>
<circle cx="253.51" cy="185.00" r="2.55" fill="none" stroke="#0000ff" stroke-width="1.55"/>
<circle cx="253.63" cy="180.00" r="2.55" fill="none" stroke="#0000ff" stroke-width="1.55"/>
<circle cx="253.79" cy="173.50" r="2.55" fill="none" stroke="#0000ff" stroke-width="1.55"/>
<circle cx="253.96" cy="166.50" r="2.55" fill="none" stroke="#0000ff" stroke-width="1.55"/>
<circle cx="254.13" cy="159.40" r="2.55" fill="none" stroke="#0000ff" stroke-width="1.55"/>
<circle cx="254.26" cy="151.30" r="2.55" fill="none" stroke="#0000ff" stroke-width="1.55"/>
<circle cx="254.41" cy="142.20" r="2.55" fill="none" stroke="#0000ff" stroke-width="1.55"/>
<circle cx="254.64" cy="128.30" r="2.55" fill="none" stroke="#0000ff" stroke-width="1.55"/>
<circle cx="254.86" cy="115.00" r="2.55" fill="none" stroke="#0000ff" stroke-width="1.55"/>
<circle cx="255.05" cy="103.30" r="2.55" fill="none" stroke="#0000ff" stroke-width="1.55"/>
<circle cx="255.23" cy="91.70" r="2.55" fill="none" stroke="#0000ff" stroke-width="1.55"/>
<circle cx="255.35" cy="81.70" r="2.55" fill="none" stroke="#0000ff" stroke-width="1.55"/>
<circle cx="255.45" cy="73.30" r="2.55" fill="none" stroke="#0000ff" stroke-width="1.55"/>
<circle cx="255.53" cy="66.70" r="2.55" fill="none" stroke="#0000ff" stroke-width="1.55"/>
<circle cx="255.65" cy="60.00" r="2.55" fill="none" stroke="#0000ff" stroke-width="1.55"/>
<circle cx="255.96" cy="53.30" r="2.55" fill="none" stroke="#0000ff" stroke-width="1.55"/>
<circle cx="256.18" cy="48.50" r="2.55" fill="none" stroke="#0000ff" stroke-width="1.55"/>
<circle cx="256.69" cy="45.00" r="2.55" fill="none" stroke="#0000ff" stroke-width="1.55"/>
<circle cx="256.80" cy="42.20" r="2.55" fill="none" stroke="#0000ff" stroke-width="1.55"/>
<circle cx="257.80" cy="39.50" r="2.55" fill="none" stroke="#0000ff" stroke-width="1.55"/>
<circle cx="259.00" cy="37.00" r="2.55" fill="none" stroke="#0000ff" stroke-width="1.55"/>
<circle cx="260.50" cy="35.00" r="2.55" fill="none" stroke="#0000ff" stroke-width="1.55"/>
<circle cx="262.00" cy="33.60" r="2.55" fill="none" stroke="#0000ff" stroke-width="1.55"/>
<circle cx="263.50" cy="32.30" r="2.55" fill="none" stroke="#0000ff" stroke-width="1.55"/>
<circle cx="265.00" cy="32.30" r="2.55" fill="none" stroke="#0000ff" stroke-width="1.55"/>
<circle cx="266.50" cy="32.25" r="2.55" fill="none" stroke="#0000ff" stroke-width="1.55"/>
<circle cx="268.00" cy="32.19" r="2.55" fill="none" stroke="#0000ff" stroke-width="1.55"/>
<circle cx="269.50" cy="32.14" r="2.55" fill="none" stroke="#0000ff" stroke-width="1.55"/>
<circle cx="271.00" cy="32.08" r="2.55" fill="none" stroke="#0000ff" stroke-width="1.55"/>
<circle cx="272.50" cy="32.03" r="2.55" fill="none" stroke="#0000ff" stroke-width="1.55"/>
<circle cx="274.00" cy="31.98" r="2.55" fill="none" stroke="#0000ff" stroke-width="1.55"/>
<circle cx="275.50" cy="31.92" r="2.55" fill="none" stroke="#0000ff" stroke-width="1.55"/>
<circle cx="277.00" cy="31.87" r="2.55" fill="none" stroke="#0000ff" stroke-width="1.55"/>
<circle cx="278.50" cy="31.81" r="2.55" fill="none" stroke="#0000ff" stroke-width="1.55"/>
<circle cx="280.00" cy="31.76" r="2.55" fill="none" stroke="#0000ff" stroke-width="1.55"/>
<circle cx="281.50" cy="31.71" r="2.55" fill="none" stroke="#0000ff" stroke-width="1.55"/>
<circle cx="283.00" cy="31.65" r="2.55" fill="none" stroke="#0000ff" stroke-width="1.55"/>
<circle cx="284.50" cy="31.60" r="2.55" fill="none" stroke="#0000ff" stroke-width="1.55"/>
<circle cx="286.00" cy="31.54" r="2.55" fill="none" stroke="#0000ff" stroke-width="1.55"/>
<circle cx="287.50" cy="31.49" r="2.55" fill="none" stroke="#0000ff" stroke-width="1.55"/>
<circle cx="289.00" cy="31.44" r="2.55" fill="none" stroke="#0000ff" stroke-width="1.55"/>
<circle cx="290.50" cy="31.30" r="2.55" fill="none" stroke="#0000ff" stroke-width="1.55"/>
<circle cx="292.00" cy="31.01" r="2.55" fill="none" stroke="#0000ff" stroke-width="1.55"/>
<circle cx="297.70" cy="29.90" r="2.55" fill="none" stroke="#0000ff" stroke-width="1.55"/>
<circle cx="302.20" cy="28.60" r="2.55" fill="none" stroke="#0000ff" stroke-width="1.55"/>
<circle cx="306.70" cy="27.16" r="2.55" fill="none" stroke="#0000ff" stroke-width="1.55"/>
<circle cx="311.20" cy="25.42" r="2.55" fill="none" stroke="#0000ff" stroke-width="1.55"/>
<circle cx="315.70" cy="23.74" r="2.55" fill="none" stroke="#0000ff" stroke-width="1.55"/>
<circle cx="320.20" cy="22.30" r="2.55" fill="none" stroke="#0000ff" stroke-width="1.55"/>
<circle cx="324.70" cy="20.80" r="2.55" fill="none" stroke="#0000ff" stroke-width="1.55"/>
<circle cx="329.20" cy="19.72" r="2.55" fill="none" stroke="#0000ff" stroke-width="1.55"/>
<circle cx="333.70" cy="18.60" r="2.55" fill="none" stroke="#0000ff" stroke-width="1.55"/>
<circle cx="338.20" cy="17.20" r="2.55" fill="none" stroke="#0000ff" stroke-width="1.55"/>
<circle cx="346.70" cy="15.40" r="2.55" fill="none" stroke="#0000ff" stroke-width="1.55"/>
<circle cx="355.80" cy="13.60" r="2.55" fill="none" stroke="#0000ff" stroke-width="1.55"/>
<circle cx="364.90" cy="11.90" r="2.55" fill="none" stroke="#0000ff" stroke-width="1.55"/>
<circle cx="374.00" cy="10.90" r="2.55" fill="none" stroke="#0000ff" stroke-width="1.55"/>
<circle cx="383.10" cy="9.96" r="2.55" fill="none" stroke="#0000ff" stroke-width="1.55"/>
<circle cx="392.20" cy="9.04" r="2.55" fill="none" stroke="#0000ff" stroke-width="1.55"/>
<circle cx="401.30" cy="8.25" r="2.55" fill="none" stroke="#0000ff" stroke-width="1.55"/>
<circle cx="416.40" cy="7.12" r="2.55" fill="none" stroke="#0000ff" stroke-width="1.55"/>
</svg>
<text x="248.80" y="241.2" text-anchor="middle" class="tk">0</text>
<text x="276.75" y="241.2" text-anchor="middle" class="tk">5</text>
<text x="304.70" y="241.2" text-anchor="middle" class="tk">10</text>
<text x="332.65" y="241.2" text-anchor="middle" class="tk">15</text>
<text x="360.60" y="241.2" text-anchor="middle" class="tk">20</text>
<text x="388.55" y="241.2" text-anchor="middle" class="tk">25</text>
<text x="416.50" y="241.2" text-anchor="middle" class="tk">30</text>
<text x="245.30" y="232.40" text-anchor="end" class="tk">0</text>
<text x="245.30" y="210.07" text-anchor="end" class="tk">0.1</text>
<text x="245.30" y="187.75" text-anchor="end" class="tk">0.2</text>
<text x="245.30" y="165.43" text-anchor="end" class="tk">0.3</text>
<text x="245.30" y="143.10" text-anchor="end" class="tk">0.4</text>
<text x="245.30" y="120.78" text-anchor="end" class="tk">0.5</text>
<text x="245.30" y="98.45" text-anchor="end" class="tk">0.6</text>
<text x="245.30" y="76.13" text-anchor="end" class="tk">0.7</text>
<text x="245.30" y="53.80" text-anchor="end" class="tk">0.8</text>
<text x="245.30" y="31.47" text-anchor="end" class="tk">0.9</text>
<text x="245.30" y="9.15" text-anchor="end" class="tk">1</text>
<text x="332.50" y="253.6" text-anchor="middle" class="lab">Throughput (Mbps)</text>
<text x="332.00" y="268.8" text-anchor="middle" class="cap">(b)</text>
<text transform="translate(229.00,116) rotate(-90)" text-anchor="middle" class="lab" textLength="204" lengthAdjust="spacingAndGlyphs">Users Throughput CDF using (<tspan font-style="italic">ω</tspan><tspan dy="-4.5" font-size="9">*</tspan><tspan dy="4.5">, </tspan><tspan font-style="italic">ρ</tspan><tspan dy="-4.5" font-size="9">*</tspan><tspan dy="4.5">)</tspan></text>
<rect x="248.80" y="205.90" width="7.60" height="22.50" fill="none" stroke="#1a1a1a" stroke-width="0.9"/>
<path d="M255.60,206.20 L290.86,166.92" stroke="#1a1a1a" stroke-width="0.9"/>
<path d="M294.20,163.20 L291.98,169.27 L288.41,166.06 Z" fill="#1a1a1a"/>
<rect x="296.60" y="106.40" width="48.00" height="74.30" fill="#fff" stroke="none"/>
<path d="M320.60,106.40 V180.70 M296.60,143.55 H344.60" stroke="#e2e2e2" stroke-width="0.7"/>
<svg x="291.60" y="106.40" width="53.00" height="79.30" viewBox="291.60 106.40 53.00 79.30" overflow="hidden">
<path d="M296.60,180.70 L301.40,180.70 L301.74,165.84 L301.88,98.97" stroke="#ff0000" stroke-width="1.4" fill="none"/>
<rect x="299.10" y="163.40" width="4.20" height="4.20" fill="none" stroke="#ff0000" stroke-width="1.55"/>
<path d="M296.60,180.70 L323.00,180.70 L323.50,179.80 L325.80,176.20 L327.90,171.30 L329.10,165.70 L329.90,158.20 L331.10,147.00 L332.70,132.40 L333.90,115.50 L334.60,106.50" stroke="#0000ff" stroke-width="1.4" fill="none"/>
<circle cx="296.60" cy="180.70" r="2.55" fill="none" stroke="#0000ff" stroke-width="1.55"/>
<circle cx="298.04" cy="180.70" r="2.55" fill="none" stroke="#0000ff" stroke-width="1.55"/>
<circle cx="299.48" cy="180.70" r="2.55" fill="none" stroke="#0000ff" stroke-width="1.55"/>
<circle cx="300.92" cy="180.70" r="2.55" fill="none" stroke="#0000ff" stroke-width="1.55"/>
<circle cx="302.36" cy="180.70" r="2.55" fill="none" stroke="#0000ff" stroke-width="1.55"/>
<circle cx="303.80" cy="180.70" r="2.55" fill="none" stroke="#0000ff" stroke-width="1.55"/>
<circle cx="305.24" cy="180.70" r="2.55" fill="none" stroke="#0000ff" stroke-width="1.55"/>
<circle cx="306.68" cy="180.70" r="2.55" fill="none" stroke="#0000ff" stroke-width="1.55"/>
<circle cx="308.12" cy="180.70" r="2.55" fill="none" stroke="#0000ff" stroke-width="1.55"/>
<circle cx="309.56" cy="180.70" r="2.55" fill="none" stroke="#0000ff" stroke-width="1.55"/>
<circle cx="311.00" cy="180.70" r="2.55" fill="none" stroke="#0000ff" stroke-width="1.55"/>
<circle cx="312.44" cy="180.70" r="2.55" fill="none" stroke="#0000ff" stroke-width="1.55"/>
<circle cx="313.88" cy="180.70" r="2.55" fill="none" stroke="#0000ff" stroke-width="1.55"/>
<circle cx="315.32" cy="180.70" r="2.55" fill="none" stroke="#0000ff" stroke-width="1.55"/>
<circle cx="316.76" cy="180.70" r="2.55" fill="none" stroke="#0000ff" stroke-width="1.55"/>
<circle cx="318.20" cy="180.70" r="2.55" fill="none" stroke="#0000ff" stroke-width="1.55"/>
<circle cx="319.64" cy="180.70" r="2.55" fill="none" stroke="#0000ff" stroke-width="1.55"/>
<circle cx="321.08" cy="180.70" r="2.55" fill="none" stroke="#0000ff" stroke-width="1.55"/>
<circle cx="322.52" cy="180.70" r="2.55" fill="none" stroke="#0000ff" stroke-width="1.55"/>
<circle cx="323.50" cy="179.80" r="2.55" fill="none" stroke="#0000ff" stroke-width="1.55"/>
<circle cx="325.80" cy="176.20" r="2.55" fill="none" stroke="#0000ff" stroke-width="1.55"/>
<circle cx="326.80" cy="174.00" r="2.55" fill="none" stroke="#0000ff" stroke-width="1.55"/>
<circle cx="327.90" cy="171.30" r="2.55" fill="none" stroke="#0000ff" stroke-width="1.55"/>
<circle cx="329.10" cy="165.70" r="2.55" fill="none" stroke="#0000ff" stroke-width="1.55"/>
<circle cx="329.90" cy="158.20" r="2.55" fill="none" stroke="#0000ff" stroke-width="1.55"/>
<circle cx="331.10" cy="147.00" r="2.55" fill="none" stroke="#0000ff" stroke-width="1.55"/>
<circle cx="332.70" cy="132.40" r="2.55" fill="none" stroke="#0000ff" stroke-width="1.55"/>
<circle cx="333.90" cy="115.50" r="2.55" fill="none" stroke="#0000ff" stroke-width="1.55"/>
</svg>
<path d="M320.60,180.70 v-1.50 M296.60,143.55 h1.50 M344.60,143.55 h-1.50 M320.60,106.40 v1.50" stroke="#262626" stroke-width="0.7"/>
<rect x="296.60" y="106.40" width="48.00" height="74.30" fill="none" stroke="#262626" stroke-width="0.9"/>
<text x="296.60" y="192.70" text-anchor="middle" class="tk">0</text><text x="320.60" y="192.70" text-anchor="middle" class="tk">0.5</text><text x="344.60" y="192.70" text-anchor="middle" class="tk">1</text>
<text x="293.30" y="183.80" text-anchor="end" class="tk">0</text><text x="293.30" y="146.65" text-anchor="end" class="tk">0.05</text><text x="293.30" y="109.50" text-anchor="end" class="tk">0.1</text>
<rect x="305.60" y="46.60" width="107.80" height="29.40" fill="#fff" stroke="#262626" stroke-width="0.8"/>
<path d="M310.30,54.60 H335.30" stroke="#ff0000" stroke-width="1.4"/>
<rect x="320.70" y="52.50" width="4.20" height="4.20" fill="none" stroke="#ff0000" stroke-width="1.55"/>
<text x="337.40" y="58.00" class="leg" textLength="73.5" lengthAdjust="spacingAndGlyphs">R5% = 0.1 Mbps</text>
<path d="M310.30,68.10 H335.30" stroke="#0000ff" stroke-width="1.4"/>
<circle cx="322.80" cy="68.10" r="2.55" fill="none" stroke="#0000ff" stroke-width="1.55"/>
<text x="337.40" y="71.50" class="leg" textLength="73.5" lengthAdjust="spacingAndGlyphs">R5% = 0.7 Mbps</text>
<path d="M495.75,5.15 V228.40 M523.70,5.15 V228.40 M551.65,5.15 V228.40 M579.60,5.15 V228.40 M607.55,5.15 V228.40 M467.80,206.07 H635.50 M467.80,183.75 H635.50 M467.80,161.43 H635.50 M467.80,139.10 H635.50 M467.80,116.78 H635.50 M467.80,94.45 H635.50 M467.80,72.13 H635.50 M467.80,49.80 H635.50 M467.80,27.47 H635.50" stroke="#e2e2e2" stroke-width="0.7" fill="none"/>
<path d="M467.80,228.40 v-2.60 M467.80,5.15 v2.60 M495.75,228.40 v-2.60 M495.75,5.15 v2.60 M523.70,228.40 v-2.60 M523.70,5.15 v2.60 M551.65,228.40 v-2.60 M551.65,5.15 v2.60 M579.60,228.40 v-2.60 M579.60,5.15 v2.60 M607.55,228.40 v-2.60 M607.55,5.15 v2.60 M635.50,228.40 v-2.60 M635.50,5.15 v2.60 M467.80,228.40 h2.60 M635.50,228.40 h-2.60 M467.80,206.07 h2.60 M635.50,206.07 h-2.60 M467.80,183.75 h2.60 M635.50,183.75 h-2.60 M467.80,161.43 h2.60 M635.50,161.43 h-2.60 M467.80,139.10 h2.60 M635.50,139.10 h-2.60 M467.80,116.78 h2.60 M635.50,116.78 h-2.60 M467.80,94.45 h2.60 M635.50,94.45 h-2.60 M467.80,72.13 h2.60 M635.50,72.13 h-2.60 M467.80,49.80 h2.60 M635.50,49.80 h-2.60 M467.80,27.47 h2.60 M635.50,27.47 h-2.60 M467.80,5.15 h2.60 M635.50,5.15 h-2.60" stroke="#262626" stroke-width="0.75" fill="none"/>
<rect x="467.80" y="5.15" width="167.70" height="223.25" fill="none" stroke="#202020" stroke-width="0.85"/>
<svg x="459.80" y="-2.85" width="183.70" height="239.25" viewBox="459.80 -2.85 183.70 239.25" overflow="hidden">
<path d="M468.00,228.00 L468.20,226.00 L468.30,200.00 L468.40,160.00 L468.60,120.00 L469.00,90.00 L469.80,70.00 L471.00,52.00 L472.80,40.00 L474.80,32.00 L477.50,28.20 L481.00,27.40 L557.00,27.20 L565.50,25.70 L575.00,24.20 L583.90,23.90 L593.20,22.00 L601.50,21.50 L611.00,19.50 L619.40,18.40 L628.70,16.60 L635.30,15.50" stroke="#ff0000" stroke-width="1.4" fill="none"/>
<rect x="466.10" y="223.90" width="4.20" height="4.20" fill="none" stroke="#ff0000" stroke-width="1.55"/>
<rect x="466.14" y="214.40" width="4.20" height="4.20" fill="none" stroke="#ff0000" stroke-width="1.55"/>
<rect x="466.17" y="204.90" width="4.20" height="4.20" fill="none" stroke="#ff0000" stroke-width="1.55"/>
<rect x="466.21" y="195.40" width="4.20" height="4.20" fill="none" stroke="#ff0000" stroke-width="1.55"/>
<rect x="466.23" y="185.90" width="4.20" height="4.20" fill="none" stroke="#ff0000" stroke-width="1.55"/>
<rect x="466.25" y="176.40" width="4.20" height="4.20" fill="none" stroke="#ff0000" stroke-width="1.55"/>
<rect x="466.28" y="166.90" width="4.20" height="4.20" fill="none" stroke="#ff0000" stroke-width="1.55"/>
<rect x="466.30" y="157.40" width="4.20" height="4.20" fill="none" stroke="#ff0000" stroke-width="1.55"/>
<rect x="466.35" y="147.90" width="4.20" height="4.20" fill="none" stroke="#ff0000" stroke-width="1.55"/>
<rect x="466.40" y="138.40" width="4.20" height="4.20" fill="none" stroke="#ff0000" stroke-width="1.55"/>
<rect x="466.44" y="128.90" width="4.20" height="4.20" fill="none" stroke="#ff0000" stroke-width="1.55"/>
<rect x="466.49" y="119.40" width="4.20" height="4.20" fill="none" stroke="#ff0000" stroke-width="1.55"/>
<rect x="466.50" y="117.90" width="4.20" height="4.20" fill="none" stroke="#ff0000" stroke-width="1.55"/>
<rect x="466.56" y="113.30" width="4.20" height="4.20" fill="none" stroke="#ff0000" stroke-width="1.55"/>
<rect x="466.62" y="108.70" width="4.20" height="4.20" fill="none" stroke="#ff0000" stroke-width="1.55"/>
<rect x="466.68" y="104.10" width="4.20" height="4.20" fill="none" stroke="#ff0000" stroke-width="1.55"/>
<rect x="466.75" y="99.50" width="4.20" height="4.20" fill="none" stroke="#ff0000" stroke-width="1.55"/>
<rect x="466.81" y="94.90" width="4.20" height="4.20" fill="none" stroke="#ff0000" stroke-width="1.55"/>
<rect x="466.87" y="90.30" width="4.20" height="4.20" fill="none" stroke="#ff0000" stroke-width="1.55"/>
<rect x="466.99" y="85.70" width="4.20" height="4.20" fill="none" stroke="#ff0000" stroke-width="1.55"/>
<rect x="467.17" y="81.10" width="4.20" height="4.20" fill="none" stroke="#ff0000" stroke-width="1.55"/>
<rect x="467.36" y="76.50" width="4.20" height="4.20" fill="none" stroke="#ff0000" stroke-width="1.55"/>
<rect x="467.54" y="71.90" width="4.20" height="4.20" fill="none" stroke="#ff0000" stroke-width="1.55"/>
<rect x="467.74" y="67.30" width="4.20" height="4.20" fill="none" stroke="#ff0000" stroke-width="1.55"/>
<rect x="468.05" y="62.70" width="4.20" height="4.20" fill="none" stroke="#ff0000" stroke-width="1.55"/>
<rect x="468.35" y="58.10" width="4.20" height="4.20" fill="none" stroke="#ff0000" stroke-width="1.55"/>
<rect x="468.37" y="57.90" width="4.20" height="4.20" fill="none" stroke="#ff0000" stroke-width="1.55"/>
<rect x="468.47" y="56.30" width="4.20" height="4.20" fill="none" stroke="#ff0000" stroke-width="1.55"/>
<rect x="468.58" y="54.70" width="4.20" height="4.20" fill="none" stroke="#ff0000" stroke-width="1.55"/>
<rect x="468.69" y="53.10" width="4.20" height="4.20" fill="none" stroke="#ff0000" stroke-width="1.55"/>
<rect x="468.79" y="51.50" width="4.20" height="4.20" fill="none" stroke="#ff0000" stroke-width="1.55"/>
<rect x="468.90" y="49.90" width="4.20" height="4.20" fill="none" stroke="#ff0000" stroke-width="1.55"/>
<rect x="469.14" y="48.30" width="4.20" height="4.20" fill="none" stroke="#ff0000" stroke-width="1.55"/>
<rect x="469.38" y="46.70" width="4.20" height="4.20" fill="none" stroke="#ff0000" stroke-width="1.55"/>
<rect x="469.62" y="45.10" width="4.20" height="4.20" fill="none" stroke="#ff0000" stroke-width="1.55"/>
<rect x="469.86" y="43.50" width="4.20" height="4.20" fill="none" stroke="#ff0000" stroke-width="1.55"/>
<rect x="470.10" y="41.90" width="4.20" height="4.20" fill="none" stroke="#ff0000" stroke-width="1.55"/>
<rect x="470.34" y="40.30" width="4.20" height="4.20" fill="none" stroke="#ff0000" stroke-width="1.55"/>
<rect x="470.58" y="38.70" width="4.20" height="4.20" fill="none" stroke="#ff0000" stroke-width="1.55"/>
<rect x="470.90" y="37.10" width="4.20" height="4.20" fill="none" stroke="#ff0000" stroke-width="1.55"/>
<rect x="471.30" y="35.50" width="4.20" height="4.20" fill="none" stroke="#ff0000" stroke-width="1.55"/>
<rect x="471.70" y="33.90" width="4.20" height="4.20" fill="none" stroke="#ff0000" stroke-width="1.55"/>
<rect x="472.10" y="32.30" width="4.20" height="4.20" fill="none" stroke="#ff0000" stroke-width="1.55"/>
<rect x="472.50" y="30.70" width="4.20" height="4.20" fill="none" stroke="#ff0000" stroke-width="1.55"/>
<rect x="473.27" y="29.10" width="4.20" height="4.20" fill="none" stroke="#ff0000" stroke-width="1.55"/>
<rect x="474.41" y="27.50" width="4.20" height="4.20" fill="none" stroke="#ff0000" stroke-width="1.55"/>
<rect x="472.80" y="472.20" width="4.20" height="4.20" fill="none" stroke="#ff0000" stroke-width="1.55"/>
<rect x="474.20" y="475.40" width="4.20" height="4.20" fill="none" stroke="#ff0000" stroke-width="1.55"/>
<rect x="475.90" y="25.99" width="4.20" height="4.20" fill="none" stroke="#ff0000" stroke-width="1.55"/>
<rect x="477.40" y="25.64" width="4.20" height="4.20" fill="none" stroke="#ff0000" stroke-width="1.55"/>
<rect x="476.90" y="25.30" width="4.20" height="4.20" fill="none" stroke="#ff0000" stroke-width="1.55"/>
<rect x="478.50" y="25.30" width="4.20" height="4.20" fill="none" stroke="#ff0000" stroke-width="1.55"/>
<rect x="480.10" y="25.30" width="4.20" height="4.20" fill="none" stroke="#ff0000" stroke-width="1.55"/>
<rect x="481.70" y="25.29" width="4.20" height="4.20" fill="none" stroke="#ff0000" stroke-width="1.55"/>
<rect x="483.30" y="25.29" width="4.20" height="4.20" fill="none" stroke="#ff0000" stroke-width="1.55"/>
<rect x="484.90" y="25.28" width="4.20" height="4.20" fill="none" stroke="#ff0000" stroke-width="1.55"/>
<rect x="486.50" y="25.28" width="4.20" height="4.20" fill="none" stroke="#ff0000" stroke-width="1.55"/>
<rect x="488.10" y="25.28" width="4.20" height="4.20" fill="none" stroke="#ff0000" stroke-width="1.55"/>
<rect x="489.70" y="25.27" width="4.20" height="4.20" fill="none" stroke="#ff0000" stroke-width="1.55"/>
<rect x="491.30" y="25.27" width="4.20" height="4.20" fill="none" stroke="#ff0000" stroke-width="1.55"/>
<rect x="492.90" y="25.26" width="4.20" height="4.20" fill="none" stroke="#ff0000" stroke-width="1.55"/>
<rect x="494.50" y="25.26" width="4.20" height="4.20" fill="none" stroke="#ff0000" stroke-width="1.55"/>
<rect x="496.10" y="25.25" width="4.20" height="4.20" fill="none" stroke="#ff0000" stroke-width="1.55"/>
<rect x="497.70" y="25.25" width="4.20" height="4.20" fill="none" stroke="#ff0000" stroke-width="1.55"/>
<rect x="499.30" y="25.25" width="4.20" height="4.20" fill="none" stroke="#ff0000" stroke-width="1.55"/>
<rect x="500.90" y="25.24" width="4.20" height="4.20" fill="none" stroke="#ff0000" stroke-width="1.55"/>
<rect x="502.50" y="25.24" width="4.20" height="4.20" fill="none" stroke="#ff0000" stroke-width="1.55"/>
<rect x="504.10" y="25.23" width="4.20" height="4.20" fill="none" stroke="#ff0000" stroke-width="1.55"/>
<rect x="505.70" y="25.23" width="4.20" height="4.20" fill="none" stroke="#ff0000" stroke-width="1.55"/>
<rect x="507.30" y="25.23" width="4.20" height="4.20" fill="none" stroke="#ff0000" stroke-width="1.55"/>
<rect x="508.90" y="25.22" width="4.20" height="4.20" fill="none" stroke="#ff0000" stroke-width="1.55"/>
<rect x="510.50" y="25.22" width="4.20" height="4.20" fill="none" stroke="#ff0000" stroke-width="1.55"/>
<rect x="512.10" y="25.21" width="4.20" height="4.20" fill="none" stroke="#ff0000" stroke-width="1.55"/>
<rect x="513.90" y="25.21" width="4.20" height="4.20" fill="none" stroke="#ff0000" stroke-width="1.55"/>
<rect x="518.40" y="25.20" width="4.20" height="4.20" fill="none" stroke="#ff0000" stroke-width="1.55"/>
<rect x="522.90" y="25.18" width="4.20" height="4.20" fill="none" stroke="#ff0000" stroke-width="1.55"/>
<rect x="527.40" y="25.17" width="4.20" height="4.20" fill="none" stroke="#ff0000" stroke-width="1.55"/>
<rect x="531.90" y="25.16" width="4.20" height="4.20" fill="none" stroke="#ff0000" stroke-width="1.55"/>
<rect x="536.40" y="25.15" width="4.20" height="4.20" fill="none" stroke="#ff0000" stroke-width="1.55"/>
<rect x="540.90" y="25.14" width="4.20" height="4.20" fill="none" stroke="#ff0000" stroke-width="1.55"/>
<rect x="545.40" y="25.12" width="4.20" height="4.20" fill="none" stroke="#ff0000" stroke-width="1.55"/>
<rect x="549.90" y="25.11" width="4.20" height="4.20" fill="none" stroke="#ff0000" stroke-width="1.55"/>
<rect x="554.40" y="25.10" width="4.20" height="4.20" fill="none" stroke="#ff0000" stroke-width="1.55"/>
<rect x="563.40" y="23.60" width="4.20" height="4.20" fill="none" stroke="#ff0000" stroke-width="1.55"/>
<rect x="572.40" y="22.18" width="4.20" height="4.20" fill="none" stroke="#ff0000" stroke-width="1.55"/>
<rect x="581.40" y="21.81" width="4.20" height="4.20" fill="none" stroke="#ff0000" stroke-width="1.55"/>
<rect x="590.40" y="20.04" width="4.20" height="4.20" fill="none" stroke="#ff0000" stroke-width="1.55"/>
<rect x="599.40" y="19.40" width="4.20" height="4.20" fill="none" stroke="#ff0000" stroke-width="1.55"/>
<rect x="608.40" y="17.51" width="4.20" height="4.20" fill="none" stroke="#ff0000" stroke-width="1.55"/>
<rect x="617.40" y="16.28" width="4.20" height="4.20" fill="none" stroke="#ff0000" stroke-width="1.55"/>
<rect x="626.40" y="14.54" width="4.20" height="4.20" fill="none" stroke="#ff0000" stroke-width="1.55"/>
<rect x="633.10" y="13.42" width="4.20" height="4.20" fill="none" stroke="#ff0000" stroke-width="1.55"/>
<path d="M468.00,228.00 L471.50,228.00 L472.30,222.00 L472.60,205.70 L473.00,160.00 L473.30,125.00 L474.00,110.00 L475.00,90.00 L476.00,70.00 L477.50,52.00 L479.50,42.00 L481.50,36.00 L484.00,33.20 L486.50,32.30 L529.00,32.00 L534.40,31.60 L538.90,30.90 L544.00,29.80 L548.50,29.10 L552.90,28.60 L557.00,27.20 L565.50,26.40 L575.00,24.50 L583.90,22.70 L593.20,20.50 L601.50,18.80 L611.00,16.60 L619.40,15.50 L628.70,14.80 L635.30,13.70" stroke="#0000ff" stroke-width="1.4" fill="none"/>
<circle cx="468.60" cy="228.00" r="2.55" fill="none" stroke="#0000ff" stroke-width="1.55"/>
<circle cx="469.40" cy="228.00" r="2.55" fill="none" stroke="#0000ff" stroke-width="1.55"/>
<circle cx="470.20" cy="228.00" r="2.55" fill="none" stroke="#0000ff" stroke-width="1.55"/>
<circle cx="471.00" cy="228.00" r="2.55" fill="none" stroke="#0000ff" stroke-width="1.55"/>
<circle cx="471.80" cy="228.00" r="2.55" fill="none" stroke="#0000ff" stroke-width="1.55"/>
<circle cx="471.77" cy="226.00" r="2.55" fill="none" stroke="#0000ff" stroke-width="1.55"/>
<circle cx="472.31" cy="221.50" r="2.55" fill="none" stroke="#0000ff" stroke-width="1.55"/>
<circle cx="472.39" cy="217.00" r="2.55" fill="none" stroke="#0000ff" stroke-width="1.55"/>
<circle cx="472.47" cy="212.50" r="2.55" fill="none" stroke="#0000ff" stroke-width="1.55"/>
<circle cx="472.56" cy="208.00" r="2.55" fill="none" stroke="#0000ff" stroke-width="1.55"/>
<circle cx="472.62" cy="203.50" r="2.55" fill="none" stroke="#0000ff" stroke-width="1.55"/>
<circle cx="472.66" cy="199.00" r="2.55" fill="none" stroke="#0000ff" stroke-width="1.55"/>
<circle cx="472.70" cy="194.50" r="2.55" fill="none" stroke="#0000ff" stroke-width="1.55"/>
<circle cx="472.74" cy="190.00" r="2.55" fill="none" stroke="#0000ff" stroke-width="1.55"/>
<circle cx="472.78" cy="185.50" r="2.55" fill="none" stroke="#0000ff" stroke-width="1.55"/>
<circle cx="472.82" cy="181.00" r="2.55" fill="none" stroke="#0000ff" stroke-width="1.55"/>
<circle cx="472.82" cy="180.00" r="2.55" fill="none" stroke="#0000ff" stroke-width="1.55"/>
<circle cx="472.87" cy="174.80" r="2.55" fill="none" stroke="#0000ff" stroke-width="1.55"/>
<circle cx="472.92" cy="169.60" r="2.55" fill="none" stroke="#0000ff" stroke-width="1.55"/>
<circle cx="472.96" cy="164.40" r="2.55" fill="none" stroke="#0000ff" stroke-width="1.55"/>
<circle cx="473.01" cy="159.20" r="2.55" fill="none" stroke="#0000ff" stroke-width="1.55"/>
<circle cx="473.05" cy="154.00" r="2.55" fill="none" stroke="#0000ff" stroke-width="1.55"/>
<circle cx="473.10" cy="148.80" r="2.55" fill="none" stroke="#0000ff" stroke-width="1.55"/>
<circle cx="473.14" cy="143.60" r="2.55" fill="none" stroke="#0000ff" stroke-width="1.55"/>
<circle cx="473.19" cy="138.40" r="2.55" fill="none" stroke="#0000ff" stroke-width="1.55"/>
<circle cx="473.23" cy="133.20" r="2.55" fill="none" stroke="#0000ff" stroke-width="1.55"/>
<circle cx="473.27" cy="128.00" r="2.55" fill="none" stroke="#0000ff" stroke-width="1.55"/>
<circle cx="473.40" cy="122.80" r="2.55" fill="none" stroke="#0000ff" stroke-width="1.55"/>
<circle cx="473.65" cy="117.60" r="2.55" fill="none" stroke="#0000ff" stroke-width="1.55"/>
<circle cx="473.89" cy="112.40" r="2.55" fill="none" stroke="#0000ff" stroke-width="1.55"/>
<circle cx="474.14" cy="107.20" r="2.55" fill="none" stroke="#0000ff" stroke-width="1.55"/>
<circle cx="474.40" cy="102.00" r="2.55" fill="none" stroke="#0000ff" stroke-width="1.55"/>
<circle cx="474.66" cy="96.80" r="2.55" fill="none" stroke="#0000ff" stroke-width="1.55"/>
<circle cx="474.92" cy="91.60" r="2.55" fill="none" stroke="#0000ff" stroke-width="1.55"/>
<circle cx="475.18" cy="86.40" r="2.55" fill="none" stroke="#0000ff" stroke-width="1.55"/>
<circle cx="475.44" cy="81.20" r="2.55" fill="none" stroke="#0000ff" stroke-width="1.55"/>
<circle cx="475.70" cy="76.00" r="2.55" fill="none" stroke="#0000ff" stroke-width="1.55"/>
<circle cx="475.96" cy="70.80" r="2.55" fill="none" stroke="#0000ff" stroke-width="1.55"/>
<circle cx="476.37" cy="65.60" r="2.55" fill="none" stroke="#0000ff" stroke-width="1.55"/>
<circle cx="476.80" cy="60.40" r="2.55" fill="none" stroke="#0000ff" stroke-width="1.55"/>
<circle cx="477.23" cy="55.20" r="2.55" fill="none" stroke="#0000ff" stroke-width="1.55"/>
<circle cx="477.90" cy="50.00" r="2.55" fill="none" stroke="#0000ff" stroke-width="1.55"/>
<circle cx="478.94" cy="44.80" r="2.55" fill="none" stroke="#0000ff" stroke-width="1.55"/>
<circle cx="480.30" cy="39.60" r="2.55" fill="none" stroke="#0000ff" stroke-width="1.55"/>
<circle cx="481.20" cy="38.50" r="2.55" fill="none" stroke="#0000ff" stroke-width="1.55"/>
<circle cx="482.60" cy="35.20" r="2.55" fill="none" stroke="#0000ff" stroke-width="1.55"/>
<circle cx="484.20" cy="33.40" r="2.55" fill="none" stroke="#0000ff" stroke-width="1.55"/>
<circle cx="486.00" cy="32.30" r="2.55" fill="none" stroke="#0000ff" stroke-width="1.55"/>
<circle cx="487.60" cy="32.29" r="2.55" fill="none" stroke="#0000ff" stroke-width="1.55"/>
<circle cx="489.20" cy="32.28" r="2.55" fill="none" stroke="#0000ff" stroke-width="1.55"/>
<circle cx="490.80" cy="32.27" r="2.55" fill="none" stroke="#0000ff" stroke-width="1.55"/>
<circle cx="492.40" cy="32.26" r="2.55" fill="none" stroke="#0000ff" stroke-width="1.55"/>
<circle cx="494.00" cy="32.25" r="2.55" fill="none" stroke="#0000ff" stroke-width="1.55"/>
<circle cx="495.60" cy="32.24" r="2.55" fill="none" stroke="#0000ff" stroke-width="1.55"/>
<circle cx="497.20" cy="32.22" r="2.55" fill="none" stroke="#0000ff" stroke-width="1.55"/>
<circle cx="498.80" cy="32.21" r="2.55" fill="none" stroke="#0000ff" stroke-width="1.55"/>
<circle cx="500.40" cy="32.20" r="2.55" fill="none" stroke="#0000ff" stroke-width="1.55"/>
<circle cx="502.00" cy="32.19" r="2.55" fill="none" stroke="#0000ff" stroke-width="1.55"/>
<circle cx="503.60" cy="32.18" r="2.55" fill="none" stroke="#0000ff" stroke-width="1.55"/>
<circle cx="505.20" cy="32.17" r="2.55" fill="none" stroke="#0000ff" stroke-width="1.55"/>
<circle cx="506.80" cy="32.16" r="2.55" fill="none" stroke="#0000ff" stroke-width="1.55"/>
<circle cx="508.40" cy="32.15" r="2.55" fill="none" stroke="#0000ff" stroke-width="1.55"/>
<circle cx="510.00" cy="32.13" r="2.55" fill="none" stroke="#0000ff" stroke-width="1.55"/>
<circle cx="511.60" cy="32.12" r="2.55" fill="none" stroke="#0000ff" stroke-width="1.55"/>
<circle cx="513.20" cy="32.11" r="2.55" fill="none" stroke="#0000ff" stroke-width="1.55"/>
<circle cx="514.80" cy="32.10" r="2.55" fill="none" stroke="#0000ff" stroke-width="1.55"/>
<circle cx="516.00" cy="32.09" r="2.55" fill="none" stroke="#0000ff" stroke-width="1.55"/>
<circle cx="520.50" cy="32.06" r="2.55" fill="none" stroke="#0000ff" stroke-width="1.55"/>
<circle cx="525.00" cy="32.03" r="2.55" fill="none" stroke="#0000ff" stroke-width="1.55"/>
<circle cx="529.50" cy="31.96" r="2.55" fill="none" stroke="#0000ff" stroke-width="1.55"/>
<circle cx="534.00" cy="31.63" r="2.55" fill="none" stroke="#0000ff" stroke-width="1.55"/>
<circle cx="538.50" cy="30.96" r="2.55" fill="none" stroke="#0000ff" stroke-width="1.55"/>
<circle cx="543.00" cy="30.02" r="2.55" fill="none" stroke="#0000ff" stroke-width="1.55"/>
<circle cx="547.50" cy="29.26" r="2.55" fill="none" stroke="#0000ff" stroke-width="1.55"/>
<circle cx="552.00" cy="28.70" r="2.55" fill="none" stroke="#0000ff" stroke-width="1.55"/>
<circle cx="556.50" cy="27.37" r="2.55" fill="none" stroke="#0000ff" stroke-width="1.55"/>
<circle cx="565.50" cy="26.40" r="2.55" fill="none" stroke="#0000ff" stroke-width="1.55"/>
<circle cx="574.60" cy="24.58" r="2.55" fill="none" stroke="#0000ff" stroke-width="1.55"/>
<circle cx="583.70" cy="22.74" r="2.55" fill="none" stroke="#0000ff" stroke-width="1.55"/>
<circle cx="592.80" cy="20.59" r="2.55" fill="none" stroke="#0000ff" stroke-width="1.55"/>
<circle cx="601.90" cy="18.71" r="2.55" fill="none" stroke="#0000ff" stroke-width="1.55"/>
<circle cx="611.00" cy="16.60" r="2.55" fill="none" stroke="#0000ff" stroke-width="1.55"/>
<circle cx="620.10" cy="15.45" r="2.55" fill="none" stroke="#0000ff" stroke-width="1.55"/>
<circle cx="629.20" cy="14.72" r="2.55" fill="none" stroke="#0000ff" stroke-width="1.55"/>
<circle cx="635.20" cy="13.72" r="2.55" fill="none" stroke="#0000ff" stroke-width="1.55"/>
</svg>
<text x="467.80" y="241.2" text-anchor="middle" class="tk">0</text>
<text x="495.75" y="241.2" text-anchor="middle" class="tk">5</text>
<text x="523.70" y="241.2" text-anchor="middle" class="tk">10</text>
<text x="551.65" y="241.2" text-anchor="middle" class="tk">15</text>
<text x="579.60" y="241.2" text-anchor="middle" class="tk">20</text>
<text x="607.55" y="241.2" text-anchor="middle" class="tk">25</text>
<text x="635.50" y="241.2" text-anchor="middle" class="tk">30</text>
<text x="464.30" y="232.40" text-anchor="end" class="tk">0</text>
<text x="464.30" y="210.07" text-anchor="end" class="tk">0.1</text>
<text x="464.30" y="187.75" text-anchor="end" class="tk">0.2</text>
<text x="464.30" y="165.43" text-anchor="end" class="tk">0.3</text>
<text x="464.30" y="143.10" text-anchor="end" class="tk">0.4</text>
<text x="464.30" y="120.78" text-anchor="end" class="tk">0.5</text>
<text x="464.30" y="98.45" text-anchor="end" class="tk">0.6</text>
<text x="464.30" y="76.13" text-anchor="end" class="tk">0.7</text>
<text x="464.30" y="53.80" text-anchor="end" class="tk">0.8</text>
<text x="464.30" y="31.47" text-anchor="end" class="tk">0.9</text>
<text x="464.30" y="9.15" text-anchor="end" class="tk">1</text>
<text x="551.60" y="253.6" text-anchor="middle" class="lab">Throughput (Mbps)</text>
<text x="532.30" y="268.8" text-anchor="middle" class="cap">(c)</text>
<text transform="translate(448.00,116) rotate(-90)" text-anchor="middle" class="lab" textLength="204" lengthAdjust="spacingAndGlyphs">Users Throughput CDF using (<tspan font-style="italic">ω</tspan><tspan dy="-4.5" font-size="9">*</tspan><tspan dy="4.5">, </tspan><tspan font-style="italic">β</tspan><tspan dy="-4.5" font-size="9">*</tspan><tspan dy="4.5">)</tspan></text>
<rect x="467.80" y="205.90" width="7.90" height="22.50" fill="none" stroke="#1a1a1a" stroke-width="0.9"/>
<path d="M474.40,206.40 L508.70,167.36" stroke="#1a1a1a" stroke-width="0.9"/>
<path d="M512.00,163.60 L509.84,169.69 L506.24,166.52 Z" fill="#1a1a1a"/>
<rect x="515.50" y="105.50" width="48.70" height="75.00" fill="#fff" stroke="none"/>
<path d="M539.85,105.50 V180.50 M515.50,143.00 H564.20" stroke="#e2e2e2" stroke-width="0.7"/>
<svg x="510.50" y="105.50" width="53.70" height="80.00" viewBox="510.50 105.50 53.70 80.00" overflow="hidden">
<path d="M515.50,180.50 L519.40,180.50 L519.60,180.50 L522.80,105.50 L523.00,100.00" stroke="#ff0000" stroke-width="1.4" fill="none"/>
<rect x="517.90" y="172.30" width="4.20" height="4.20" fill="none" stroke="#ff0000" stroke-width="1.55"/>
<rect x="519.50" y="124.30" width="4.20" height="4.20" fill="none" stroke="#ff0000" stroke-width="1.55"/>
<path d="M515.50,180.50 L542.77,180.50 L544.72,176.75 L546.67,169.25 L548.62,154.25 L550.56,128.00 L553.49,98.00" stroke="#0000ff" stroke-width="1.4" fill="none"/>
<circle cx="515.50" cy="180.50" r="2.55" fill="none" stroke="#0000ff" stroke-width="1.55"/>
<circle cx="516.96" cy="180.50" r="2.55" fill="none" stroke="#0000ff" stroke-width="1.55"/>
<circle cx="518.42" cy="180.50" r="2.55" fill="none" stroke="#0000ff" stroke-width="1.55"/>
<circle cx="519.88" cy="180.50" r="2.55" fill="none" stroke="#0000ff" stroke-width="1.55"/>
<circle cx="521.34" cy="180.50" r="2.55" fill="none" stroke="#0000ff" stroke-width="1.55"/>
<circle cx="522.81" cy="180.50" r="2.55" fill="none" stroke="#0000ff" stroke-width="1.55"/>
<circle cx="524.27" cy="180.50" r="2.55" fill="none" stroke="#0000ff" stroke-width="1.55"/>
<circle cx="525.73" cy="180.50" r="2.55" fill="none" stroke="#0000ff" stroke-width="1.55"/>
<circle cx="527.19" cy="180.50" r="2.55" fill="none" stroke="#0000ff" stroke-width="1.55"/>
<circle cx="528.65" cy="180.50" r="2.55" fill="none" stroke="#0000ff" stroke-width="1.55"/>
<circle cx="530.11" cy="180.50" r="2.55" fill="none" stroke="#0000ff" stroke-width="1.55"/>
<circle cx="531.57" cy="180.50" r="2.55" fill="none" stroke="#0000ff" stroke-width="1.55"/>
<circle cx="533.03" cy="180.50" r="2.55" fill="none" stroke="#0000ff" stroke-width="1.55"/>
<circle cx="534.49" cy="180.50" r="2.55" fill="none" stroke="#0000ff" stroke-width="1.55"/>
<circle cx="535.95" cy="180.50" r="2.55" fill="none" stroke="#0000ff" stroke-width="1.55"/>
<circle cx="537.41" cy="180.50" r="2.55" fill="none" stroke="#0000ff" stroke-width="1.55"/>
<circle cx="538.88" cy="180.50" r="2.55" fill="none" stroke="#0000ff" stroke-width="1.55"/>
<circle cx="540.34" cy="180.50" r="2.55" fill="none" stroke="#0000ff" stroke-width="1.55"/>
<circle cx="541.80" cy="180.50" r="2.55" fill="none" stroke="#0000ff" stroke-width="1.55"/>
<circle cx="543.26" cy="180.50" r="2.55" fill="none" stroke="#0000ff" stroke-width="1.55"/>
<circle cx="544.10" cy="175.40" r="2.55" fill="none" stroke="#0000ff" stroke-width="1.55"/>
<circle cx="545.90" cy="169.40" r="2.55" fill="none" stroke="#0000ff" stroke-width="1.55"/>
<circle cx="546.50" cy="163.20" r="2.55" fill="none" stroke="#0000ff" stroke-width="1.55"/>
<circle cx="547.70" cy="154.40" r="2.55" fill="none" stroke="#0000ff" stroke-width="1.55"/>
<circle cx="548.80" cy="143.30" r="2.55" fill="none" stroke="#0000ff" stroke-width="1.55"/>
<circle cx="550.20" cy="129.20" r="2.55" fill="none" stroke="#0000ff" stroke-width="1.55"/>
<circle cx="552.10" cy="113.90" r="2.55" fill="none" stroke="#0000ff" stroke-width="1.55"/>
</svg>
<path d="M539.85,180.50 v-1.50 M515.50,143.00 h1.50 M564.20,143.00 h-1.50 M539.85,105.50 v1.50" stroke="#262626" stroke-width="0.7"/>
<rect x="515.50" y="105.50" width="48.70" height="75.00" fill="none" stroke="#262626" stroke-width="0.9"/>
<text x="515.50" y="192.50" text-anchor="middle" class="tk">0</text><text x="539.85" y="192.50" text-anchor="middle" class="tk">0.5</text><text x="564.20" y="192.50" text-anchor="middle" class="tk">1</text>
<text x="512.20" y="183.60" text-anchor="end" class="tk">0</text><text x="512.20" y="146.10" text-anchor="end" class="tk">0.05</text><text x="512.20" y="108.60" text-anchor="end" class="tk">0.1</text>
<rect x="524.70" y="46.60" width="107.80" height="28.40" fill="#fff" stroke="#262626" stroke-width="0.8"/>
<path d="M529.40,54.00 H554.70" stroke="#ff0000" stroke-width="1.4"/>
<rect x="539.95" y="51.90" width="4.20" height="4.20" fill="none" stroke="#ff0000" stroke-width="1.55"/>
<text x="556.40" y="57.40" class="leg" textLength="73.5" lengthAdjust="spacingAndGlyphs">R5% = 0.1 Mbps</text>
<path d="M529.40,67.60 H554.70" stroke="#0000ff" stroke-width="1.4"/>
<circle cx="542.05" cy="67.60" r="2.55" fill="none" stroke="#0000ff" stroke-width="1.55"/>
<text x="556.40" y="71.00" class="leg" textLength="73.5" lengthAdjust="spacingAndGlyphs">R5% = 0.7 Mbps</text>
</svg></body></html>
